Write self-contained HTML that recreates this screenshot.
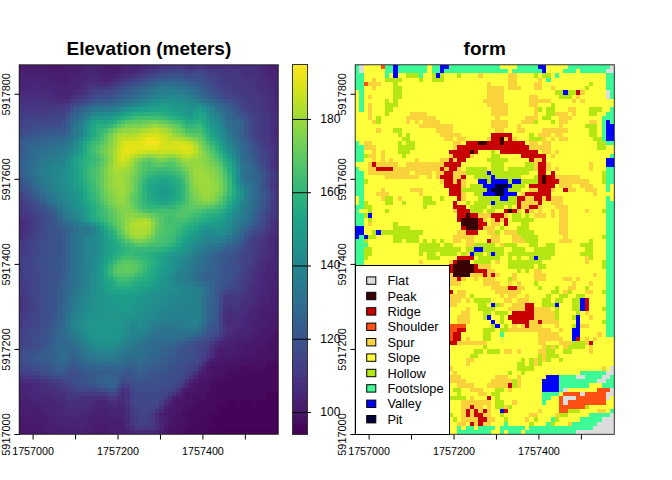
<!DOCTYPE html>
<html><head><meta charset="utf-8"><style>
html,body{margin:0;padding:0;background:#fff;width:672px;height:480px;overflow:hidden}
svg{display:block}
.ax{font-family:'Liberation Sans',sans-serif;font-size:10.75px;fill:#000;stroke:none}
.cbl{font-family:'Liberation Sans',sans-serif;font-size:12px;fill:#000;stroke:none}
.ayl{font-family:'Liberation Sans',sans-serif;font-size:10.9px;fill:#000;stroke:none}
.lg{font-family:'Liberation Sans',sans-serif;font-size:12.8px;fill:#000}
.tt{font-family:'Liberation Sans',sans-serif;font-size:19px;font-weight:bold;fill:#000}
</style></head><body>
<svg width="672" height="480" viewBox="0 0 672 480">
<rect width="672" height="480" fill="#fff"/>
<g shape-rendering="crispEdges"><g transform="translate(19.20,64.78) scale(4.24750,4.24750)"><path fill="#481a6c" d="M0 0h7v1h-7zM10 0h1v1h-1zM20 0h3v1h-3zM8 1h2v1h-2zM60 58h1v1h-1zM60 59h1v1h-1zM59 60h2v1h-2zM59 61h2v1h-2zM57 62h3v1h-3zM56 63h3v1h-3zM55 64h3v1h-3zM53 65h4v1h-4zM51 66h2v1h-2zM47 67h1v1h-1zM51 67h2v1h-2zM47 68h4v1h-4zM46 69h1v1h-1zM43 72h1v1h-1zM42 73h1v1h-1zM41 74h1v1h-1zM40 75h1v1h-1zM39 76h1v1h-1zM38 77h1v1h-1zM37 78h1v1h-1zM36 79h1v1h-1zM36 80h1v1h-1zM35 81h2v1h-2zM0 82h1v1h-1zM35 82h1v1h-1zM1 83h3v1h-3zM35 83h1v1h-1zM1 84h5v1h-5zM2 85h1v1h-1zM5 85h1v1h-1zM18 85h3v1h-3zM34 85h1v1h-1zM6 86h1v1h-1zM17 86h4v1h-4z"/><path fill="#481769" d="M7 0h3v1h-3zM60 62h1v1h-1zM59 63h1v1h-1zM58 64h1v1h-1zM57 65h1v1h-1zM53 66h5v1h-5zM53 67h3v1h-3zM51 68h5v1h-5zM47 69h5v1h-5zM45 70h3v1h-3zM44 71h1v1h-1zM44 72h2v1h-2zM43 73h2v1h-2zM42 74h2v1h-2zM41 75h1v1h-1zM40 76h2v1h-2zM38 78h1v1h-1zM37 79h2v1h-2zM37 80h1v1h-1zM37 81h1v1h-1zM36 82h1v1h-1zM0 83h1v1h-1zM0 84h1v1h-1zM35 84h1v1h-1zM0 85h2v1h-2zM3 85h2v1h-2zM1 86h5v1h-5zM34 86h1v1h-1z"/><path fill="#481d6f" d="M11 0h4v1h-4zM19 0h1v1h-1zM23 0h1v1h-1zM0 1h8v1h-8zM10 1h3v1h-3zM20 1h3v1h-3zM8 2h4v1h-4zM10 3h1v1h-1zM60 54h1v1h-1zM60 55h1v1h-1zM60 56h1v1h-1zM58 57h3v1h-3zM57 58h3v1h-3zM57 59h3v1h-3zM58 60h1v1h-1zM57 61h2v1h-2zM56 62h1v1h-1zM55 63h1v1h-1zM54 64h1v1h-1zM51 65h2v1h-2zM50 66h1v1h-1zM48 67h3v1h-3zM46 68h1v1h-1zM44 70h1v1h-1zM0 79h1v1h-1zM0 80h1v1h-1zM35 80h1v1h-1zM0 81h2v1h-2zM3 81h2v1h-2zM34 81h1v1h-1zM1 82h5v1h-5zM34 82h1v1h-1zM4 83h3v1h-3zM19 83h1v1h-1zM34 83h1v1h-1zM6 84h1v1h-1zM17 84h4v1h-4zM23 84h1v1h-1zM34 84h1v1h-1zM6 85h2v1h-2zM17 85h1v1h-1zM21 85h1v1h-1zM23 85h2v1h-2zM7 86h5v1h-5zM16 86h1v1h-1zM21 86h4v1h-4zM33 86h1v1h-1z"/><path fill="#482071" d="M15 0h1v1h-1zM18 0h1v1h-1zM24 0h1v1h-1zM59 0h2v1h-2zM13 1h2v1h-2zM18 1h2v1h-2zM23 1h1v1h-1zM60 1h1v1h-1zM0 2h8v1h-8zM12 2h2v1h-2zM19 2h3v1h-3zM6 3h4v1h-4zM11 3h1v1h-1zM9 4h3v1h-3zM60 49h1v1h-1zM60 50h1v1h-1zM59 51h2v1h-2zM59 52h2v1h-2zM59 53h2v1h-2zM59 54h1v1h-1zM59 55h1v1h-1zM57 56h3v1h-3zM56 57h2v1h-2zM56 58h1v1h-1zM56 59h1v1h-1zM55 60h3v1h-3zM55 61h2v1h-2zM55 62h1v1h-1zM54 63h1v1h-1zM51 64h3v1h-3zM49 65h2v1h-2zM47 66h3v1h-3zM46 67h1v1h-1zM45 69h1v1h-1zM43 71h1v1h-1zM42 72h1v1h-1zM38 76h1v1h-1zM0 78h2v1h-2zM36 78h1v1h-1zM1 79h2v1h-2zM1 80h5v1h-5zM2 81h1v1h-1zM5 81h1v1h-1zM18 81h3v1h-3zM6 82h1v1h-1zM17 82h4v1h-4zM33 82h1v1h-1zM7 83h2v1h-2zM16 83h3v1h-3zM20 83h4v1h-4zM7 84h2v1h-2zM16 84h1v1h-1zM21 84h2v1h-2zM24 84h1v1h-1zM8 85h6v1h-6zM15 85h2v1h-2zM22 85h1v1h-1zM12 86h4v1h-4zM25 86h1v1h-1z"/><path fill="#482475" d="M16 0h2v1h-2zM25 0h3v1h-3zM58 0h1v1h-1zM15 1h3v1h-3zM24 1h2v1h-2zM58 1h2v1h-2zM14 2h1v1h-1zM18 2h1v1h-1zM22 2h1v1h-1zM59 2h2v1h-2zM0 3h6v1h-6zM12 3h3v1h-3zM19 3h2v1h-2zM5 4h4v1h-4zM12 4h2v1h-2zM9 5h4v1h-4zM9 6h3v1h-3zM60 45h1v1h-1zM60 46h1v1h-1zM60 47h1v1h-1zM59 48h2v1h-2zM58 49h2v1h-2zM58 50h2v1h-2zM58 51h1v1h-1zM58 52h1v1h-1zM58 53h1v1h-1zM57 54h2v1h-2zM56 55h3v1h-3zM56 56h1v1h-1zM55 57h1v1h-1zM55 58h1v1h-1zM54 59h2v1h-2zM54 60h1v1h-1zM54 61h1v1h-1zM54 62h1v1h-1zM51 63h3v1h-3zM50 64h1v1h-1zM48 65h1v1h-1zM46 66h1v1h-1zM41 73h1v1h-1zM40 74h1v1h-1zM39 75h1v1h-1zM0 76h1v1h-1zM0 77h2v1h-2zM37 77h1v1h-1zM2 78h1v1h-1zM3 79h4v1h-4zM35 79h1v1h-1zM6 80h1v1h-1zM18 80h3v1h-3zM34 80h1v1h-1zM6 81h2v1h-2zM17 81h1v1h-1zM21 81h1v1h-1zM23 81h2v1h-2zM7 82h3v1h-3zM15 82h2v1h-2zM21 82h4v1h-4zM9 83h1v1h-1zM14 83h2v1h-2zM24 83h1v1h-1zM33 83h1v1h-1zM9 84h7v1h-7zM14 85h1v1h-1zM26 86h1v1h-1zM32 86h1v1h-1z"/><path fill="#482677" d="M28 0h2v1h-2zM57 0h1v1h-1zM26 1h2v1h-2zM15 2h3v1h-3zM23 2h1v1h-1zM58 2h1v1h-1zM15 3h1v1h-1zM21 3h1v1h-1zM59 3h2v1h-2zM0 4h5v1h-5zM14 4h1v1h-1zM59 4h2v1h-2zM0 5h3v1h-3zM4 5h5v1h-5zM13 5h1v1h-1zM60 5h1v1h-1zM8 6h1v1h-1zM12 6h1v1h-1zM60 6h1v1h-1zM9 7h3v1h-3zM60 7h1v1h-1zM60 8h1v1h-1zM60 15h1v1h-1zM60 16h1v1h-1zM60 41h1v1h-1zM60 42h1v1h-1zM60 43h1v1h-1zM60 44h1v1h-1zM59 46h1v1h-1zM58 47h2v1h-2zM58 48h1v1h-1zM57 49h1v1h-1zM57 50h1v1h-1zM57 51h1v1h-1zM57 52h1v1h-1zM57 53h1v1h-1zM56 54h1v1h-1zM55 56h1v1h-1zM54 57h1v1h-1zM54 58h1v1h-1zM53 59h1v1h-1zM53 60h1v1h-1zM53 61h1v1h-1zM51 62h3v1h-3zM50 63h1v1h-1zM49 64h1v1h-1zM47 65h1v1h-1zM0 75h3v1h-3zM1 76h3v1h-3zM2 77h2v1h-2zM3 78h5v1h-5zM7 79h2v1h-2zM18 79h3v1h-3zM7 80h3v1h-3zM17 80h1v1h-1zM21 80h1v1h-1zM23 80h2v1h-2zM8 81h2v1h-2zM16 81h1v1h-1zM22 81h1v1h-1zM10 82h1v1h-1zM14 82h1v1h-1zM10 83h4v1h-4zM33 84h1v1h-1zM25 85h1v1h-1zM33 85h1v1h-1zM27 86h1v1h-1zM31 86h1v1h-1z"/><path fill="#472a7a" d="M30 0h1v1h-1zM56 0h1v1h-1zM28 1h1v1h-1zM56 1h2v1h-2zM24 2h1v1h-1zM57 2h1v1h-1zM16 3h3v1h-3zM58 3h1v1h-1zM15 4h1v1h-1zM20 4h1v1h-1zM58 4h1v1h-1zM3 5h1v1h-1zM14 5h1v1h-1zM58 5h2v1h-2zM0 6h8v1h-8zM13 6h1v1h-1zM59 6h1v1h-1zM8 7h1v1h-1zM59 7h1v1h-1zM9 8h2v1h-2zM60 9h1v1h-1zM60 10h1v1h-1zM60 11h1v1h-1zM60 12h1v1h-1zM60 13h1v1h-1zM60 14h1v1h-1zM60 17h1v1h-1zM60 22h1v1h-1zM0 37h1v1h-1zM0 38h1v1h-1zM59 40h2v1h-2zM59 41h1v1h-1zM59 42h1v1h-1zM59 43h1v1h-1zM59 44h1v1h-1zM59 45h1v1h-1zM58 46h1v1h-1zM57 47h1v1h-1zM57 48h1v1h-1zM56 49h1v1h-1zM56 50h1v1h-1zM56 51h1v1h-1zM56 52h1v1h-1zM56 53h1v1h-1zM55 54h1v1h-1zM55 55h1v1h-1zM54 56h1v1h-1zM53 57h1v1h-1zM53 58h1v1h-1zM49 59h1v1h-1zM52 59h1v1h-1zM49 60h1v1h-1zM52 60h1v1h-1zM51 61h2v1h-2zM50 62h1v1h-1zM49 63h1v1h-1zM48 64h1v1h-1zM45 68h1v1h-1zM44 69h1v1h-1zM0 74h1v1h-1zM3 75h2v1h-2zM4 76h1v1h-1zM4 77h4v1h-4zM24 77h1v1h-1zM8 78h2v1h-2zM24 78h1v1h-1zM9 79h2v1h-2zM17 79h1v1h-1zM23 79h2v1h-2zM10 80h1v1h-1zM16 80h1v1h-1zM22 80h1v1h-1zM10 81h6v1h-6zM33 81h1v1h-1zM11 82h3v1h-3zM32 82h1v1h-1zM25 83h1v1h-1zM32 83h1v1h-1zM25 84h1v1h-1zM28 86h3v1h-3z"/><path fill="#472d7b" d="M31 0h1v1h-1zM51 0h5v1h-5zM54 1h2v1h-2zM25 2h1v1h-1zM56 2h1v1h-1zM22 3h1v1h-1zM57 3h1v1h-1zM16 4h1v1h-1zM19 4h1v1h-1zM21 4h1v1h-1zM57 4h1v1h-1zM15 5h1v1h-1zM58 6h1v1h-1zM0 7h8v1h-8zM12 7h1v1h-1zM8 8h1v1h-1zM59 8h1v1h-1zM59 9h1v1h-1zM59 10h1v1h-1zM60 18h1v1h-1zM60 21h1v1h-1zM60 23h1v1h-1zM0 36h1v1h-1zM60 37h1v1h-1zM60 38h1v1h-1zM0 39h1v1h-1zM60 39h1v1h-1zM58 41h1v1h-1zM58 42h1v1h-1zM58 43h1v1h-1zM58 44h1v1h-1zM58 45h1v1h-1zM57 46h1v1h-1zM56 47h1v1h-1zM56 48h1v1h-1zM55 51h1v1h-1zM55 52h1v1h-1zM55 53h1v1h-1zM54 55h1v1h-1zM53 56h1v1h-1zM52 57h1v1h-1zM49 58h1v1h-1zM52 58h1v1h-1zM50 59h2v1h-2zM50 60h2v1h-2zM49 61h2v1h-2zM49 62h1v1h-1zM45 67h1v1h-1zM43 70h1v1h-1zM42 71h1v1h-1zM1 74h3v1h-3zM5 75h1v1h-1zM5 76h3v1h-3zM8 77h2v1h-2zM10 78h1v1h-1zM18 78h2v1h-2zM23 78h1v1h-1zM35 78h1v1h-1zM14 79h3v1h-3zM21 79h2v1h-2zM11 80h5v1h-5zM25 81h1v1h-1zM25 82h1v1h-1z"/><path fill="#46307e" d="M32 0h1v1h-1zM40 0h1v1h-1zM44 0h7v1h-7zM29 1h1v1h-1zM52 1h2v1h-2zM26 2h1v1h-1zM53 2h3v1h-3zM23 3h1v1h-1zM55 3h2v1h-2zM17 4h2v1h-2zM56 4h1v1h-1zM56 5h2v1h-2zM14 6h1v1h-1zM57 6h1v1h-1zM58 7h1v1h-1zM0 8h8v1h-8zM11 8h1v1h-1zM58 8h1v1h-1zM58 9h1v1h-1zM58 10h1v1h-1zM59 11h1v1h-1zM59 12h1v1h-1zM59 13h1v1h-1zM59 14h1v1h-1zM59 15h1v1h-1zM59 16h1v1h-1zM59 17h1v1h-1zM59 18h1v1h-1zM60 19h1v1h-1zM60 20h1v1h-1zM60 24h1v1h-1zM60 28h1v1h-1zM1 36h1v1h-1zM60 36h1v1h-1zM1 37h1v1h-1zM1 38h1v1h-1zM59 39h1v1h-1zM0 40h1v1h-1zM58 40h1v1h-1zM57 44h1v1h-1zM57 45h1v1h-1zM56 46h1v1h-1zM55 48h1v1h-1zM55 49h1v1h-1zM55 50h1v1h-1zM54 52h1v1h-1zM54 53h1v1h-1zM54 54h1v1h-1zM0 55h1v1h-1zM53 55h1v1h-1zM0 56h1v1h-1zM52 56h1v1h-1zM49 57h1v1h-1zM48 58h1v1h-1zM50 58h2v1h-2zM48 59h1v1h-1zM48 60h1v1h-1zM48 63h1v1h-1zM46 65h1v1h-1zM45 66h1v1h-1zM41 72h1v1h-1zM4 74h1v1h-1zM6 75h1v1h-1zM8 76h1v1h-1zM24 76h1v1h-1zM10 77h1v1h-1zM14 78h4v1h-4zM20 78h1v1h-1zM11 79h1v1h-1zM13 79h1v1h-1zM34 79h1v1h-1zM25 80h1v1h-1zM32 84h1v1h-1zM26 85h1v1h-1zM32 85h1v1h-1z"/><path fill="#463480" d="M33 0h1v1h-1zM39 0h1v1h-1zM41 0h1v1h-1zM43 0h1v1h-1zM30 1h1v1h-1zM48 1h4v1h-4zM27 2h1v1h-1zM52 2h1v1h-1zM53 3h2v1h-2zM53 4h3v1h-3zM16 5h1v1h-1zM54 5h2v1h-2zM15 6h1v1h-1zM56 6h1v1h-1zM13 7h1v1h-1zM57 7h1v1h-1zM57 8h1v1h-1zM0 9h11v1h-11zM57 9h1v1h-1zM57 10h1v1h-1zM58 11h1v1h-1zM59 19h1v1h-1zM59 22h1v1h-1zM59 23h1v1h-1zM60 27h1v1h-1zM60 29h1v1h-1zM0 35h1v1h-1zM60 35h1v1h-1zM59 36h1v1h-1zM59 37h1v1h-1zM59 38h1v1h-1zM1 39h1v1h-1zM0 41h1v1h-1zM57 41h1v1h-1zM57 42h1v1h-1zM57 43h1v1h-1zM56 45h1v1h-1zM55 47h1v1h-1zM54 51h1v1h-1zM0 54h1v1h-1zM53 54h1v1h-1zM52 55h1v1h-1zM49 56h1v1h-1zM51 56h1v1h-1zM0 57h1v1h-1zM48 57h1v1h-1zM50 57h2v1h-2zM48 61h1v1h-1zM47 64h1v1h-1zM0 73h1v1h-1zM40 73h1v1h-1zM5 74h1v1h-1zM39 74h1v1h-1zM7 75h2v1h-2zM38 75h1v1h-1zM9 76h1v1h-1zM37 76h1v1h-1zM25 77h1v1h-1zM36 77h1v1h-1zM11 78h1v1h-1zM13 78h1v1h-1zM25 78h1v1h-1zM12 79h1v1h-1zM25 79h1v1h-1zM33 80h1v1h-1z"/><path fill="#453781" d="M34 0h5v1h-5zM42 0h1v1h-1zM31 1h1v1h-1zM47 1h1v1h-1zM28 2h1v1h-1zM48 2h4v1h-4zM24 3h1v1h-1zM51 3h2v1h-2zM22 4h1v1h-1zM52 4h1v1h-1zM17 5h1v1h-1zM20 5h1v1h-1zM52 5h2v1h-2zM53 6h3v1h-3zM14 7h1v1h-1zM55 7h2v1h-2zM12 8h1v1h-1zM55 8h2v1h-2zM56 9h1v1h-1zM0 10h7v1h-7zM56 10h1v1h-1zM57 11h1v1h-1zM58 12h1v1h-1zM58 13h1v1h-1zM58 14h1v1h-1zM58 15h1v1h-1zM58 16h1v1h-1zM58 17h1v1h-1zM58 18h1v1h-1zM59 20h1v1h-1zM59 21h1v1h-1zM59 24h1v1h-1zM60 25h1v1h-1zM60 26h1v1h-1zM60 30h1v1h-1zM60 31h1v1h-1zM0 32h1v1h-1zM60 32h1v1h-1zM0 33h1v1h-1zM60 33h1v1h-1zM0 34h1v1h-1zM60 34h1v1h-1zM1 35h1v1h-1zM2 36h1v1h-1zM2 37h1v1h-1zM2 38h1v1h-1zM58 39h1v1h-1zM1 40h1v1h-1zM57 40h1v1h-1zM0 42h1v1h-1zM56 42h1v1h-1zM56 43h1v1h-1zM56 44h1v1h-1zM55 46h1v1h-1zM54 48h1v1h-1zM54 49h1v1h-1zM54 50h1v1h-1zM0 51h1v1h-1zM0 52h1v1h-1zM53 52h1v1h-1zM0 53h1v1h-1zM53 53h1v1h-1zM52 54h1v1h-1zM49 55h1v1h-1zM51 55h1v1h-1zM1 56h1v1h-1zM48 56h1v1h-1zM50 56h1v1h-1zM0 58h1v1h-1zM48 62h1v1h-1zM44 68h1v1h-1zM1 73h2v1h-2zM6 74h1v1h-1zM10 76h1v1h-1zM25 76h1v1h-1zM11 77h1v1h-1zM23 77h1v1h-1zM12 78h1v1h-1zM21 78h2v1h-2zM32 81h1v1h-1zM26 82h1v1h-1zM31 82h1v1h-1zM26 83h1v1h-1zM31 83h1v1h-1zM26 84h1v1h-1zM31 84h1v1h-1zM27 85h1v1h-1zM29 85h3v1h-3z"/><path fill="#443a83" d="M32 1h1v1h-1zM44 1h3v1h-3zM47 2h1v1h-1zM25 3h1v1h-1zM48 3h3v1h-3zM49 4h3v1h-3zM18 5h2v1h-2zM50 5h2v1h-2zM16 6h1v1h-1zM51 6h2v1h-2zM53 7h2v1h-2zM54 8h1v1h-1zM11 9h1v1h-1zM54 9h2v1h-2zM7 10h1v1h-1zM55 10h1v1h-1zM0 11h1v1h-1zM56 11h1v1h-1zM57 12h1v1h-1zM57 13h1v1h-1zM57 14h1v1h-1zM57 15h1v1h-1zM57 16h1v1h-1zM57 17h1v1h-1zM58 19h1v1h-1zM59 27h1v1h-1zM59 28h1v1h-1zM2 35h1v1h-1zM59 35h1v1h-1zM2 39h1v1h-1zM1 41h1v1h-1zM55 41h2v1h-2zM1 42h1v1h-1zM55 42h1v1h-1zM0 43h1v1h-1zM55 43h1v1h-1zM55 45h1v1h-1zM54 47h1v1h-1zM0 50h1v1h-1zM53 51h1v1h-1zM1 52h1v1h-1zM1 53h1v1h-1zM52 53h1v1h-1zM1 54h1v1h-1zM49 54h1v1h-1zM51 54h1v1h-1zM1 55h1v1h-1zM48 55h1v1h-1zM50 55h1v1h-1zM1 57h1v1h-1zM1 58h1v1h-1zM0 59h1v1h-1zM0 60h1v1h-1zM0 61h1v1h-1zM45 65h1v1h-1zM44 67h1v1h-1zM43 69h1v1h-1zM3 73h1v1h-1zM7 74h1v1h-1zM9 75h1v1h-1zM11 76h1v1h-1zM12 77h8v1h-8zM26 81h1v1h-1zM28 85h1v1h-1z"/><path fill="#433d84" d="M33 1h1v1h-1zM39 1h2v1h-2zM29 2h1v1h-1zM46 2h1v1h-1zM47 3h1v1h-1zM23 4h1v1h-1zM48 4h1v1h-1zM21 5h1v1h-1zM49 5h1v1h-1zM50 6h1v1h-1zM15 7h1v1h-1zM52 7h1v1h-1zM13 8h1v1h-1zM53 8h1v1h-1zM53 9h1v1h-1zM8 10h3v1h-3zM54 10h1v1h-1zM1 11h6v1h-6zM55 11h1v1h-1zM0 12h1v1h-1zM56 12h1v1h-1zM56 13h1v1h-1zM56 14h1v1h-1zM56 15h1v1h-1zM56 16h1v1h-1zM57 18h1v1h-1zM58 20h1v1h-1zM58 21h1v1h-1zM58 22h1v1h-1zM59 25h1v1h-1zM59 26h1v1h-1zM59 29h1v1h-1zM0 31h1v1h-1zM59 32h1v1h-1zM1 33h1v1h-1zM59 33h1v1h-1zM1 34h1v1h-1zM59 34h1v1h-1zM3 36h1v1h-1zM58 36h1v1h-1zM3 37h1v1h-1zM58 37h1v1h-1zM3 38h1v1h-1zM58 38h1v1h-1zM57 39h1v1h-1zM2 40h1v1h-1zM56 40h1v1h-1zM54 42h1v1h-1zM1 43h1v1h-1zM54 43h1v1h-1zM0 44h1v1h-1zM55 44h1v1h-1zM0 45h1v1h-1zM0 46h1v1h-1zM54 46h1v1h-1zM0 47h1v1h-1zM0 48h1v1h-1zM53 48h1v1h-1zM0 49h1v1h-1zM53 49h1v1h-1zM53 50h1v1h-1zM1 51h1v1h-1zM52 51h1v1h-1zM52 52h1v1h-1zM48 54h1v1h-1zM50 54h1v1h-1zM2 55h1v1h-1zM2 56h1v1h-1zM2 57h1v1h-1zM1 59h1v1h-1zM0 62h1v1h-1zM47 63h1v1h-1zM46 64h1v1h-1zM44 66h1v1h-1zM42 70h1v1h-1zM41 71h1v1h-1zM0 72h1v1h-1zM4 73h1v1h-1zM8 74h1v1h-1zM10 75h1v1h-1zM12 76h1v1h-1zM20 77h1v1h-1zM35 77h1v1h-1zM34 78h1v1h-1zM33 79h1v1h-1zM26 80h1v1h-1zM27 82h1v1h-1zM27 83h1v1h-1zM27 84h1v1h-1zM30 84h1v1h-1z"/><path fill="#424086" d="M34 1h1v1h-1zM38 1h1v1h-1zM45 2h1v1h-1zM26 3h1v1h-1zM46 3h1v1h-1zM47 4h1v1h-1zM48 5h1v1h-1zM17 6h1v1h-1zM49 6h1v1h-1zM51 7h1v1h-1zM52 8h1v1h-1zM7 11h1v1h-1zM1 12h1v1h-1zM55 12h1v1h-1zM0 13h1v1h-1zM55 13h1v1h-1zM55 14h1v1h-1zM55 15h1v1h-1zM55 16h1v1h-1zM56 17h1v1h-1zM57 19h1v1h-1zM58 23h1v1h-1zM59 31h1v1h-1zM1 32h1v1h-1zM2 34h1v1h-1zM3 35h1v1h-1zM58 35h1v1h-1zM3 39h1v1h-1zM55 40h1v1h-1zM2 41h1v1h-1zM54 41h1v1h-1zM2 42h1v1h-1zM1 44h1v1h-1zM54 44h1v1h-1zM1 45h1v1h-1zM54 45h1v1h-1zM1 46h1v1h-1zM1 47h1v1h-1zM53 47h1v1h-1zM1 48h1v1h-1zM1 49h1v1h-1zM1 50h1v1h-1zM52 50h1v1h-1zM2 51h1v1h-1zM2 52h1v1h-1zM2 53h1v1h-1zM50 53h2v1h-2zM2 54h1v1h-1zM3 56h1v1h-1zM2 58h1v1h-1zM1 60h1v1h-1zM1 61h1v1h-1zM0 63h1v1h-1zM43 68h1v1h-1zM1 72h1v1h-1zM40 72h1v1h-1zM5 73h1v1h-1zM39 73h1v1h-1zM9 74h1v1h-1zM24 75h1v1h-1zM37 75h1v1h-1zM26 79h1v1h-1zM27 81h1v1h-1zM31 81h1v1h-1zM30 83h1v1h-1zM28 84h2v1h-2z"/><path fill="#414287" d="M35 1h1v1h-1zM41 1h1v1h-1zM43 1h1v1h-1zM30 2h1v1h-1zM44 2h1v1h-1zM27 3h1v1h-1zM45 3h1v1h-1zM24 4h1v1h-1zM46 4h1v1h-1zM22 5h1v1h-1zM47 5h1v1h-1zM18 6h1v1h-1zM48 6h1v1h-1zM16 7h1v1h-1zM50 7h1v1h-1zM14 8h1v1h-1zM51 8h1v1h-1zM12 9h1v1h-1zM52 9h1v1h-1zM11 10h1v1h-1zM53 10h1v1h-1zM8 11h3v1h-3zM54 11h1v1h-1zM2 12h5v1h-5zM1 13h1v1h-1zM0 14h1v1h-1zM56 18h1v1h-1zM57 20h1v1h-1zM58 24h1v1h-1zM0 30h1v1h-1zM59 30h1v1h-1zM2 33h1v1h-1zM3 34h1v1h-1zM4 36h1v1h-1zM4 37h1v1h-1zM4 38h1v1h-1zM4 39h1v1h-1zM56 39h1v1h-1zM3 40h1v1h-1zM3 41h1v1h-1zM2 43h1v1h-1zM2 44h1v1h-1zM53 44h1v1h-1zM2 45h1v1h-1zM53 45h1v1h-1zM2 46h1v1h-1zM53 46h1v1h-1zM2 47h1v1h-1zM2 48h1v1h-1zM2 49h1v1h-1zM52 49h1v1h-1zM2 50h1v1h-1zM51 51h1v1h-1zM51 52h1v1h-1zM49 53h1v1h-1zM3 55h1v1h-1zM3 57h1v1h-1zM2 59h1v1h-1zM47 59h1v1h-1zM2 60h1v1h-1zM47 60h1v1h-1zM2 61h1v1h-1zM47 61h1v1h-1zM1 62h1v1h-1zM47 62h1v1h-1zM1 63h1v1h-1zM0 64h1v1h-1zM0 65h1v1h-1zM43 66h1v1h-1zM43 67h1v1h-1zM42 69h1v1h-1zM0 71h1v1h-1zM2 72h1v1h-1zM6 73h1v1h-1zM38 74h1v1h-1zM11 75h1v1h-1zM25 75h1v1h-1zM13 76h1v1h-1zM23 76h1v1h-1zM36 76h1v1h-1zM26 77h1v1h-1zM26 78h1v1h-1zM27 80h1v1h-1zM32 80h1v1h-1zM28 81h1v1h-1zM28 82h1v1h-1zM30 82h1v1h-1zM28 83h2v1h-2z"/><path fill="#404688" d="M36 1h2v1h-2zM42 1h1v1h-1zM31 2h1v1h-1zM28 3h1v1h-1zM19 6h2v1h-2zM49 7h1v1h-1zM7 12h3v1h-3zM54 12h1v1h-1zM2 13h3v1h-3zM54 13h1v1h-1zM1 14h1v1h-1zM54 14h1v1h-1zM54 15h1v1h-1zM55 17h1v1h-1zM57 21h1v1h-1zM57 22h1v1h-1zM58 25h1v1h-1zM58 27h1v1h-1zM58 28h1v1h-1zM1 31h1v1h-1zM2 32h1v1h-1zM58 34h1v1h-1zM4 35h1v1h-1zM57 37h1v1h-1zM57 38h1v1h-1zM4 40h1v1h-1zM54 40h1v1h-1zM3 42h1v1h-1zM3 43h1v1h-1zM53 43h1v1h-1zM3 44h1v1h-1zM3 45h1v1h-1zM52 45h1v1h-1zM52 46h1v1h-1zM3 47h1v1h-1zM52 47h1v1h-1zM3 48h1v1h-1zM52 48h1v1h-1zM3 49h1v1h-1zM3 50h1v1h-1zM51 50h1v1h-1zM3 51h1v1h-1zM3 52h1v1h-1zM50 52h1v1h-1zM3 53h1v1h-1zM48 53h1v1h-1zM3 54h1v1h-1zM4 55h1v1h-1zM4 56h1v1h-1zM4 57h1v1h-1zM47 57h1v1h-1zM3 58h1v1h-1zM47 58h1v1h-1zM3 59h1v1h-1zM3 60h1v1h-1zM3 61h1v1h-1zM2 62h1v1h-1zM1 64h1v1h-1zM45 64h1v1h-1zM1 65h1v1h-1zM44 65h1v1h-1zM0 66h1v1h-1zM42 66h1v1h-1zM42 67h1v1h-1zM42 68h1v1h-1zM41 70h1v1h-1zM1 71h1v1h-1zM40 71h1v1h-1zM3 72h1v1h-1zM39 72h1v1h-1zM7 73h1v1h-1zM10 74h1v1h-1zM12 75h1v1h-1zM14 76h4v1h-4zM26 76h1v1h-1zM21 77h2v1h-2zM34 77h1v1h-1zM33 78h1v1h-1zM27 79h1v1h-1zM29 79h1v1h-1zM28 80h4v1h-4zM29 81h2v1h-2zM29 82h1v1h-1z"/><path fill="#3f4889" d="M32 2h1v1h-1zM39 2h2v1h-2zM43 2h1v1h-1zM44 3h1v1h-1zM25 4h1v1h-1zM45 4h1v1h-1zM23 5h1v1h-1zM46 5h1v1h-1zM21 6h1v1h-1zM47 6h1v1h-1zM17 7h1v1h-1zM48 7h1v1h-1zM15 8h1v1h-1zM50 8h1v1h-1zM52 10h1v1h-1zM53 11h1v1h-1zM10 12h1v1h-1zM5 13h5v1h-5zM2 14h1v1h-1zM0 15h1v1h-1zM54 16h1v1h-1zM56 19h1v1h-1zM57 23h1v1h-1zM58 26h1v1h-1zM0 29h1v1h-1zM58 32h1v1h-1zM3 33h1v1h-1zM58 33h1v1h-1zM4 34h1v1h-1zM5 36h1v1h-1zM57 36h1v1h-1zM5 37h1v1h-1zM5 38h1v1h-1zM5 39h1v1h-1zM55 39h1v1h-1zM4 41h1v1h-1zM4 42h1v1h-1zM53 42h1v1h-1zM4 43h1v1h-1zM4 44h1v1h-1zM52 44h1v1h-1zM3 46h1v1h-1zM51 46h1v1h-1zM4 48h1v1h-1zM4 49h1v1h-1zM51 49h1v1h-1zM4 50h1v1h-1zM4 51h1v1h-1zM50 51h1v1h-1zM4 52h1v1h-1zM49 52h1v1h-1zM4 53h1v1h-1zM4 54h1v1h-1zM47 55h1v1h-1zM47 56h1v1h-1zM4 58h1v1h-1zM4 59h1v1h-1zM4 60h1v1h-1zM4 61h1v1h-1zM3 62h1v1h-1zM2 63h1v1h-1zM46 63h1v1h-1zM2 64h1v1h-1zM2 65h1v1h-1zM43 65h1v1h-1zM1 66h1v1h-1zM41 66h1v1h-1zM41 67h1v1h-1zM41 69h1v1h-1zM0 70h1v1h-1zM40 70h1v1h-1zM2 71h1v1h-1zM39 71h1v1h-1zM4 72h1v1h-1zM38 72h1v1h-1zM8 73h1v1h-1zM38 73h1v1h-1zM36 74h2v1h-2zM36 75h1v1h-1zM18 76h1v1h-1zM33 76h3v1h-3zM27 77h7v1h-7zM27 78h6v1h-6zM28 79h1v1h-1zM30 79h3v1h-3z"/><path fill="#3e4c8a" d="M33 2h1v1h-1zM41 2h1v1h-1zM29 3h1v1h-1zM13 9h1v1h-1zM51 9h1v1h-1zM3 14h2v1h-2zM1 15h1v1h-1zM55 18h1v1h-1zM56 20h1v1h-1zM56 21h1v1h-1zM58 29h1v1h-1zM1 30h1v1h-1zM2 31h1v1h-1zM58 31h1v1h-1zM3 32h1v1h-1zM5 35h1v1h-1zM57 35h1v1h-1zM56 38h1v1h-1zM5 40h1v1h-1zM5 41h1v1h-1zM53 41h1v1h-1zM5 42h1v1h-1zM5 43h1v1h-1zM5 44h1v1h-1zM4 45h1v1h-1zM51 45h1v1h-1zM4 46h1v1h-1zM4 47h1v1h-1zM51 47h1v1h-1zM5 48h1v1h-1zM51 48h1v1h-1zM5 49h1v1h-1zM5 50h1v1h-1zM50 50h1v1h-1zM5 51h1v1h-1zM5 52h1v1h-1zM5 53h1v1h-1zM5 54h1v1h-1zM47 54h1v1h-1zM5 55h1v1h-1zM5 56h1v1h-1zM5 57h1v1h-1zM5 58h1v1h-1zM5 59h1v1h-1zM5 60h1v1h-1zM4 62h1v1h-1zM3 63h1v1h-1zM3 64h1v1h-1zM3 65h1v1h-1zM42 65h1v1h-1zM2 66h2v1h-2zM0 67h1v1h-1zM41 68h1v1h-1zM40 69h1v1h-1zM1 70h1v1h-1zM39 70h1v1h-1zM3 71h1v1h-1zM38 71h1v1h-1zM5 72h1v1h-1zM37 72h1v1h-1zM9 73h1v1h-1zM36 73h2v1h-2zM11 74h1v1h-1zM35 74h1v1h-1zM13 75h1v1h-1zM33 75h3v1h-3zM19 76h1v1h-1zM27 76h6v1h-6z"/><path fill="#3d4e8a" d="M34 2h1v1h-1zM38 2h1v1h-1zM42 2h1v1h-1zM43 3h1v1h-1zM26 4h1v1h-1zM44 4h1v1h-1zM24 5h1v1h-1zM45 5h1v1h-1zM22 6h1v1h-1zM46 6h1v1h-1zM18 7h3v1h-3zM16 8h1v1h-1zM49 8h1v1h-1zM12 10h1v1h-1zM11 11h1v1h-1zM10 13h1v1h-1zM5 14h5v1h-5zM2 15h2v1h-2zM0 16h1v1h-1zM54 17h1v1h-1zM56 22h1v1h-1zM57 24h1v1h-1zM0 28h1v1h-1zM58 30h1v1h-1zM4 33h1v1h-1zM5 34h1v1h-1zM57 34h1v1h-1zM6 35h1v1h-1zM6 36h1v1h-1zM6 37h1v1h-1zM6 38h1v1h-1zM6 39h1v1h-1zM54 39h1v1h-1zM6 40h1v1h-1zM6 41h1v1h-1zM6 42h1v1h-1zM6 43h1v1h-1zM52 43h1v1h-1zM6 44h1v1h-1zM51 44h1v1h-1zM5 45h1v1h-1zM5 46h1v1h-1zM50 46h1v1h-1zM5 47h1v1h-1zM50 47h1v1h-1zM6 48h1v1h-1zM50 48h1v1h-1zM6 49h1v1h-1zM50 49h1v1h-1zM6 50h1v1h-1zM6 51h1v1h-1zM49 51h1v1h-1zM6 52h1v1h-1zM48 52h1v1h-1zM6 53h1v1h-1zM47 53h1v1h-1zM6 54h1v1h-1zM6 55h1v1h-1zM6 56h1v1h-1zM6 57h1v1h-1zM6 58h1v1h-1zM6 59h1v1h-1zM6 60h1v1h-1zM5 61h1v1h-1zM5 62h1v1h-1zM46 62h1v1h-1zM4 63h1v1h-1zM45 63h1v1h-1zM4 64h1v1h-1zM44 64h1v1h-1zM4 65h1v1h-1zM41 65h1v1h-1zM4 66h1v1h-1zM40 66h1v1h-1zM1 67h1v1h-1zM40 67h1v1h-1zM0 68h1v1h-1zM40 68h1v1h-1zM0 69h2v1h-2zM39 69h1v1h-1zM2 70h1v1h-1zM38 70h1v1h-1zM4 71h1v1h-1zM37 71h1v1h-1zM6 72h1v1h-1zM12 72h2v1h-2zM36 72h1v1h-1zM11 73h2v1h-2zM35 73h1v1h-1zM12 74h1v1h-1zM24 74h2v1h-2zM34 74h1v1h-1zM14 75h1v1h-1zM23 75h1v1h-1zM26 75h1v1h-1zM28 75h5v1h-5zM20 76h1v1h-1z"/><path fill="#3b518b" d="M35 2h1v1h-1zM37 2h1v1h-1zM30 3h1v1h-1zM27 4h1v1h-1zM21 7h1v1h-1zM47 7h1v1h-1zM14 9h1v1h-1zM50 9h1v1h-1zM51 10h1v1h-1zM52 11h1v1h-1zM53 12h1v1h-1zM4 15h1v1h-1zM1 16h1v1h-1zM55 19h1v1h-1zM1 29h1v1h-1zM7 37h1v1h-1zM56 37h1v1h-1zM7 38h1v1h-1zM55 38h1v1h-1zM7 39h1v1h-1zM7 40h1v1h-1zM7 41h1v1h-1zM7 42h1v1h-1zM7 43h1v1h-1zM7 44h1v1h-1zM6 45h1v1h-1zM50 45h1v1h-1zM6 46h1v1h-1zM6 47h1v1h-1zM49 47h1v1h-1zM7 48h1v1h-1zM49 48h1v1h-1zM7 49h1v1h-1zM49 49h1v1h-1zM7 50h1v1h-1zM49 50h1v1h-1zM7 51h1v1h-1zM7 52h1v1h-1zM7 53h1v1h-1zM7 54h1v1h-1zM7 55h1v1h-1zM7 56h1v1h-1zM7 57h1v1h-1zM7 58h1v1h-1zM7 59h1v1h-1zM6 61h1v1h-1zM46 61h1v1h-1zM5 63h1v1h-1zM5 64h1v1h-1zM43 64h1v1h-1zM5 65h1v1h-1zM39 66h1v1h-1zM2 67h2v1h-2zM38 67h2v1h-2zM1 68h1v1h-1zM39 68h1v1h-1zM38 69h1v1h-1zM3 70h1v1h-1zM37 70h1v1h-1zM36 71h1v1h-1zM7 72h1v1h-1zM35 72h1v1h-1zM10 73h1v1h-1zM13 73h1v1h-1zM34 73h1v1h-1zM13 74h1v1h-1zM32 74h2v1h-2zM15 75h2v1h-2zM27 75h1v1h-1z"/><path fill="#3a538b" d="M36 2h1v1h-1zM41 3h2v1h-2zM28 4h1v1h-1zM43 4h1v1h-1zM25 5h1v1h-1zM44 5h1v1h-1zM23 6h1v1h-1zM45 6h1v1h-1zM17 8h1v1h-1zM48 8h1v1h-1zM11 12h1v1h-1zM53 13h1v1h-1zM10 14h1v1h-1zM53 14h1v1h-1zM5 15h1v1h-1zM53 15h1v1h-1zM2 16h1v1h-1zM0 17h1v1h-1zM54 18h1v1h-1zM55 20h1v1h-1zM56 23h1v1h-1zM57 25h1v1h-1zM57 26h1v1h-1zM0 27h1v1h-1zM57 27h1v1h-1zM57 28h1v1h-1zM2 30h1v1h-1zM3 31h1v1h-1zM4 32h1v1h-1zM5 33h1v1h-1zM57 33h1v1h-1zM6 34h1v1h-1zM7 35h1v1h-1zM7 36h1v1h-1zM56 36h1v1h-1zM8 38h1v1h-1zM8 39h1v1h-1zM8 40h2v1h-2zM53 40h1v1h-1zM8 41h2v1h-2zM8 42h2v1h-2zM52 42h1v1h-1zM8 43h2v1h-2zM51 43h1v1h-1zM8 44h2v1h-2zM50 44h1v1h-1zM7 45h1v1h-1zM49 45h1v1h-1zM7 46h1v1h-1zM49 46h1v1h-1zM7 47h1v1h-1zM8 48h1v1h-1zM48 48h1v1h-1zM8 49h1v1h-1zM48 49h1v1h-1zM8 50h1v1h-1zM48 50h1v1h-1zM8 51h1v1h-1zM48 51h1v1h-1zM8 52h1v1h-1zM47 52h1v1h-1zM8 53h1v1h-1zM8 54h1v1h-1zM8 55h1v1h-1zM8 56h1v1h-1zM8 57h1v1h-1zM7 60h1v1h-1zM46 60h1v1h-1zM6 62h1v1h-1zM45 62h1v1h-1zM6 63h1v1h-1zM44 63h1v1h-1zM6 64h1v1h-1zM42 64h1v1h-1zM5 66h1v1h-1zM38 66h1v1h-1zM4 67h1v1h-1zM2 68h1v1h-1zM38 68h1v1h-1zM2 69h1v1h-1zM37 69h1v1h-1zM4 70h1v1h-1zM36 70h1v1h-1zM5 71h2v1h-2zM12 71h2v1h-2zM35 71h1v1h-1zM8 72h1v1h-1zM11 72h1v1h-1zM14 72h1v1h-1zM25 72h2v1h-2zM34 72h1v1h-1zM14 73h1v1h-1zM24 73h3v1h-3zM31 73h3v1h-3zM14 74h1v1h-1zM26 74h6v1h-6zM17 75h1v1h-1zM22 76h1v1h-1z"/><path fill="#39568c" d="M31 3h1v1h-1zM40 3h1v1h-1zM22 7h1v1h-1zM46 7h1v1h-1zM15 9h1v1h-1zM51 11h1v1h-1zM6 15h4v1h-4zM3 16h1v1h-1zM53 16h1v1h-1zM55 21h1v1h-1zM1 28h1v1h-1zM57 29h1v1h-1zM57 31h1v1h-1zM57 32h1v1h-1zM56 35h1v1h-1zM8 37h1v1h-1zM9 39h1v1h-1zM49 44h1v1h-1zM8 45h2v1h-2zM8 46h1v1h-1zM8 47h2v1h-2zM48 47h1v1h-1zM9 48h1v1h-1zM9 49h1v1h-1zM47 51h1v1h-1zM8 58h1v1h-1zM8 59h1v1h-1zM46 59h1v1h-1zM7 61h1v1h-1zM45 61h1v1h-1zM6 65h1v1h-1zM40 65h1v1h-1zM37 67h1v1h-1zM3 68h1v1h-1zM37 68h1v1h-1zM3 69h1v1h-1zM36 69h1v1h-1zM5 70h1v1h-1zM35 70h1v1h-1zM7 71h1v1h-1zM34 71h1v1h-1zM15 72h1v1h-1zM31 72h3v1h-3zM15 73h1v1h-1zM27 73h1v1h-1zM30 73h1v1h-1zM15 74h1v1h-1zM18 75h1v1h-1zM21 76h1v1h-1z"/><path fill="#38598c" d="M32 3h1v1h-1zM39 3h1v1h-1zM29 4h1v1h-1zM42 4h1v1h-1zM26 5h1v1h-1zM43 5h1v1h-1zM24 6h1v1h-1zM44 6h1v1h-1zM18 8h3v1h-3zM47 8h1v1h-1zM49 9h1v1h-1zM13 10h1v1h-1zM50 10h1v1h-1zM12 11h1v1h-1zM52 12h1v1h-1zM11 13h1v1h-1zM10 15h1v1h-1zM4 16h1v1h-1zM1 17h1v1h-1zM53 17h1v1h-1zM0 18h1v1h-1zM0 19h1v1h-1zM54 19h1v1h-1zM0 20h1v1h-1zM55 22h1v1h-1zM56 24h1v1h-1zM0 26h1v1h-1zM2 29h1v1h-1zM57 30h1v1h-1zM7 34h1v1h-1zM56 34h1v1h-1zM8 36h1v1h-1zM55 37h1v1h-1zM9 38h1v1h-1zM54 38h1v1h-1zM10 40h1v1h-1zM10 41h1v1h-1zM52 41h1v1h-1zM10 42h1v1h-1zM10 43h1v1h-1zM50 43h1v1h-1zM10 44h1v1h-1zM48 44h1v1h-1zM47 45h2v1h-2zM9 46h1v1h-1zM48 46h1v1h-1zM47 48h1v1h-1zM47 49h1v1h-1zM9 50h1v1h-1zM47 50h1v1h-1zM9 51h1v1h-1zM46 51h1v1h-1zM9 52h1v1h-1zM46 52h1v1h-1zM46 53h1v1h-1zM46 54h1v1h-1zM46 55h1v1h-1zM46 56h1v1h-1zM46 57h1v1h-1zM46 58h1v1h-1zM8 60h1v1h-1zM7 62h1v1h-1zM44 62h1v1h-1zM7 63h1v1h-1zM43 63h1v1h-1zM7 64h1v1h-1zM41 64h1v1h-1zM39 65h1v1h-1zM6 66h1v1h-1zM37 66h1v1h-1zM5 67h1v1h-1zM4 68h1v1h-1zM36 68h1v1h-1zM4 69h1v1h-1zM35 69h1v1h-1zM6 70h1v1h-1zM12 70h1v1h-1zM34 70h1v1h-1zM11 71h1v1h-1zM32 71h2v1h-2zM9 72h2v1h-2zM16 72h1v1h-1zM24 72h1v1h-1zM27 72h1v1h-1zM30 72h1v1h-1zM16 73h1v1h-1zM23 73h1v1h-1zM28 73h2v1h-2zM16 74h1v1h-1zM23 74h1v1h-1zM19 75h1v1h-1z"/><path fill="#365c8d" d="M33 3h1v1h-1zM38 3h1v1h-1zM27 5h1v1h-1zM23 7h1v1h-1zM45 7h1v1h-1zM21 8h1v1h-1zM11 14h1v1h-1zM5 16h1v1h-1zM2 17h1v1h-1zM54 20h1v1h-1zM0 21h1v1h-1zM55 23h1v1h-1zM0 25h1v1h-1zM56 25h1v1h-1zM1 27h1v1h-1zM3 30h1v1h-1zM4 31h1v1h-1zM5 32h1v1h-1zM6 33h1v1h-1zM8 35h1v1h-1zM10 39h1v1h-1zM53 39h1v1h-1zM51 42h1v1h-1zM47 44h1v1h-1zM10 45h1v1h-1zM10 46h1v1h-1zM47 46h1v1h-1zM10 47h1v1h-1zM47 47h1v1h-1zM10 48h1v1h-1zM10 49h1v1h-1zM46 50h1v1h-1zM9 53h1v1h-1zM9 54h1v1h-1zM9 55h1v1h-1zM9 56h1v1h-1zM45 60h1v1h-1zM8 61h1v1h-1zM7 65h1v1h-1zM38 65h1v1h-1zM6 67h1v1h-1zM36 67h1v1h-1zM5 68h1v1h-1zM35 68h1v1h-1zM5 69h2v1h-2zM34 69h1v1h-1zM7 70h1v1h-1zM13 70h1v1h-1zM33 70h1v1h-1zM8 71h1v1h-1zM14 71h1v1h-1zM25 71h2v1h-2zM31 71h1v1h-1zM17 72h7v1h-7zM17 73h1v1h-1zM17 74h1v1h-1zM20 75h1v1h-1z"/><path fill="#355f8d" d="M34 3h1v1h-1zM37 3h1v1h-1zM30 4h1v1h-1zM41 4h1v1h-1zM28 5h1v1h-1zM25 6h1v1h-1zM16 9h1v1h-1zM48 9h1v1h-1zM50 11h1v1h-1zM51 12h1v1h-1zM52 13h1v1h-1zM6 16h4v1h-4zM3 17h1v1h-1zM1 18h1v1h-1zM53 18h1v1h-1zM1 19h1v1h-1zM54 21h1v1h-1zM0 22h1v1h-1zM0 23h1v1h-1zM0 24h1v1h-1zM56 26h1v1h-1zM2 28h1v1h-1zM56 33h1v1h-1zM55 36h1v1h-1zM9 37h1v1h-1zM10 38h1v1h-1zM49 43h1v1h-1zM46 45h1v1h-1zM46 46h1v1h-1zM46 47h1v1h-1zM46 48h1v1h-1zM45 49h2v1h-2zM10 50h1v1h-1zM45 50h1v1h-1zM45 56h1v1h-1zM9 57h1v1h-1zM45 57h1v1h-1zM9 58h1v1h-1zM45 58h1v1h-1zM9 59h1v1h-1zM45 59h1v1h-1zM9 60h1v1h-1zM44 61h1v1h-1zM8 62h1v1h-1zM7 66h1v1h-1zM36 66h1v1h-1zM35 67h1v1h-1zM6 68h1v1h-1zM34 68h1v1h-1zM7 69h1v1h-1zM12 69h1v1h-1zM33 69h1v1h-1zM8 70h1v1h-1zM11 70h1v1h-1zM32 70h1v1h-1zM9 71h1v1h-1zM15 71h2v1h-2zM27 71h1v1h-1zM30 71h1v1h-1zM28 72h2v1h-2zM18 73h2v1h-2zM22 73h1v1h-1zM18 74h1v1h-1zM22 75h1v1h-1z"/><path fill="#34618d" d="M35 3h2v1h-2zM40 4h1v1h-1zM42 5h1v1h-1zM26 6h1v1h-1zM43 6h1v1h-1zM24 7h1v1h-1zM44 7h1v1h-1zM22 8h1v1h-1zM46 8h1v1h-1zM14 10h1v1h-1zM49 10h1v1h-1zM12 12h1v1h-1zM50 12h1v1h-1zM52 14h1v1h-1zM11 15h1v1h-1zM52 15h1v1h-1zM10 16h1v1h-1zM52 16h1v1h-1zM4 17h2v1h-2zM2 18h1v1h-1zM53 19h1v1h-1zM1 20h1v1h-1zM1 21h1v1h-1zM54 22h1v1h-1zM55 24h1v1h-1zM1 26h1v1h-1zM56 27h1v1h-1zM56 28h1v1h-1zM3 29h1v1h-1zM56 29h1v1h-1zM56 30h1v1h-1zM56 31h1v1h-1zM56 32h1v1h-1zM8 34h1v1h-1zM55 35h1v1h-1zM54 37h1v1h-1zM11 39h1v1h-1zM52 40h1v1h-1zM50 42h1v1h-1zM48 43h1v1h-1zM46 44h1v1h-1zM45 48h1v1h-1zM44 49h1v1h-1zM44 50h1v1h-1zM10 51h1v1h-1zM45 51h1v1h-1zM10 52h1v1h-1zM45 54h1v1h-1zM45 55h1v1h-1zM44 60h1v1h-1zM8 63h1v1h-1zM42 63h1v1h-1zM8 64h1v1h-1zM40 64h1v1h-1zM37 65h1v1h-1zM35 66h1v1h-1zM7 67h1v1h-1zM34 67h1v1h-1zM7 68h1v1h-1zM12 68h1v1h-1zM33 68h1v1h-1zM8 69h1v1h-1zM13 69h1v1h-1zM32 69h1v1h-1zM31 70h1v1h-1zM10 71h1v1h-1zM17 71h1v1h-1zM20 71h2v1h-2zM24 71h1v1h-1zM29 71h1v1h-1zM20 73h2v1h-2zM19 74h1v1h-1zM21 75h1v1h-1z"/><path fill="#32648e" d="M31 4h1v1h-1zM29 5h1v1h-1zM27 6h1v1h-1zM25 7h1v1h-1zM17 9h1v1h-1zM13 11h1v1h-1zM51 13h1v1h-1zM6 17h1v1h-1zM52 17h1v1h-1zM3 18h1v1h-1zM2 19h1v1h-1zM53 20h1v1h-1zM1 22h1v1h-1zM55 25h1v1h-1zM55 26h1v1h-1zM2 27h1v1h-1zM4 30h1v1h-1zM5 31h1v1h-1zM7 33h1v1h-1zM55 34h1v1h-1zM9 36h1v1h-1zM11 38h1v1h-1zM53 38h1v1h-1zM11 40h1v1h-1zM11 41h1v1h-1zM51 41h1v1h-1zM11 42h1v1h-1zM11 43h1v1h-1zM11 44h1v1h-1zM11 45h1v1h-1zM45 45h1v1h-1zM11 46h1v1h-1zM45 46h1v1h-1zM11 47h1v1h-1zM45 47h1v1h-1zM11 48h1v1h-1zM44 48h1v1h-1zM43 49h1v1h-1zM43 50h1v1h-1zM45 52h1v1h-1zM10 53h1v1h-1zM45 53h1v1h-1zM10 54h1v1h-1zM10 55h1v1h-1zM44 56h1v1h-1zM44 57h1v1h-1zM44 58h1v1h-1zM44 59h1v1h-1zM9 61h1v1h-1zM43 62h1v1h-1zM8 65h1v1h-1zM8 66h1v1h-1zM34 66h1v1h-1zM8 67h1v1h-1zM12 67h1v1h-1zM33 67h1v1h-1zM8 68h1v1h-1zM32 68h1v1h-1zM11 69h1v1h-1zM31 69h1v1h-1zM9 70h1v1h-1zM14 70h1v1h-1zM26 70h1v1h-1zM30 70h1v1h-1zM18 71h2v1h-2zM22 71h2v1h-2zM28 71h1v1h-1zM20 74h1v1h-1zM22 74h1v1h-1z"/><path fill="#30698e" d="M32 4h1v1h-1zM38 4h1v1h-1zM30 5h1v1h-1zM28 6h1v1h-1zM42 6h1v1h-1zM26 7h1v1h-1zM43 7h1v1h-1zM24 8h1v1h-1zM45 8h1v1h-1zM18 9h3v1h-3zM15 10h1v1h-1zM48 10h1v1h-1zM49 12h1v1h-1zM12 14h1v1h-1zM50 14h1v1h-1zM11 16h1v1h-1zM6 18h1v1h-1zM52 18h1v1h-1zM3 19h1v1h-1zM2 22h1v1h-1zM53 22h1v1h-1zM54 24h1v1h-1zM54 25h1v1h-1zM2 26h1v1h-1zM54 26h1v1h-1zM55 27h1v1h-1zM4 29h1v1h-1zM55 29h1v1h-1zM55 30h1v1h-1zM55 31h1v1h-1zM9 35h1v1h-1zM54 36h1v1h-1zM12 38h1v1h-1zM12 39h1v1h-1zM50 41h1v1h-1zM47 43h1v1h-1zM44 46h1v1h-1zM43 48h1v1h-1zM42 49h1v1h-1zM42 50h1v1h-1zM44 51h1v1h-1zM11 53h1v1h-1zM44 54h1v1h-1zM10 57h1v1h-1zM10 58h1v1h-1zM10 59h1v1h-1zM10 60h1v1h-1zM43 61h1v1h-1zM41 63h1v1h-1zM10 64h1v1h-1zM38 64h1v1h-1zM11 65h1v1h-1zM34 65h2v1h-2zM10 66h3v1h-3zM32 66h1v1h-1zM9 67h1v1h-1zM11 67h1v1h-1zM13 67h1v1h-1zM31 67h1v1h-1zM30 68h1v1h-1zM9 69h1v1h-1zM14 69h1v1h-1zM26 69h1v1h-1zM16 70h1v1h-1zM24 70h1v1h-1zM28 70h1v1h-1z"/><path fill="#2f6b8e" d="M33 4h1v1h-1zM37 4h1v1h-1zM40 5h1v1h-1zM21 9h1v1h-1zM14 11h1v1h-1zM13 12h1v1h-1zM50 15h1v1h-1zM10 17h1v1h-1zM51 17h1v1h-1zM7 18h1v1h-1zM4 19h2v1h-2zM52 19h1v1h-1zM3 20h1v1h-1zM3 21h1v1h-1zM2 23h1v1h-1zM3 27h1v1h-1zM55 28h1v1h-1zM5 30h1v1h-1zM55 32h1v1h-1zM8 33h1v1h-1zM54 35h1v1h-1zM11 37h1v1h-1zM53 37h1v1h-1zM51 40h1v1h-1zM44 45h1v1h-1zM43 47h1v1h-1zM11 54h1v1h-1zM10 61h1v1h-1zM10 63h1v1h-1zM37 64h1v1h-1zM32 65h2v1h-2zM31 66h1v1h-1zM10 67h1v1h-1zM30 67h1v1h-1zM9 68h1v1h-1zM10 69h1v1h-1zM25 69h1v1h-1zM27 69h1v1h-1zM29 69h1v1h-1zM17 70h1v1h-1zM23 70h1v1h-1z"/><path fill="#2e6e8e" d="M34 4h3v1h-3zM29 6h1v1h-1zM27 7h1v1h-1zM25 8h1v1h-1zM44 8h1v1h-1zM46 9h1v1h-1zM16 10h1v1h-1zM48 11h1v1h-1zM49 13h1v1h-1zM12 15h1v1h-1zM50 16h1v1h-1zM8 18h1v1h-1zM6 19h1v1h-1zM4 20h1v1h-1zM52 20h1v1h-1zM3 22h1v1h-1zM53 23h1v1h-1zM2 24h1v1h-1zM2 25h1v1h-1zM53 25h1v1h-1zM53 26h1v1h-1zM54 27h1v1h-1zM4 28h1v1h-1zM6 31h1v1h-1zM7 32h1v1h-1zM9 34h1v1h-1zM54 34h1v1h-1zM10 36h1v1h-1zM52 38h1v1h-1zM12 40h1v1h-1zM12 41h1v1h-1zM12 42h1v1h-1zM48 42h1v1h-1zM12 43h1v1h-1zM46 43h1v1h-1zM12 44h1v1h-1zM44 44h1v1h-1zM12 45h1v1h-1zM12 46h1v1h-1zM43 46h1v1h-1zM12 47h1v1h-1zM12 48h1v1h-1zM42 48h1v1h-1zM12 49h1v1h-1zM12 50h1v1h-1zM12 51h1v1h-1zM43 51h1v1h-1zM12 52h1v1h-1zM44 52h1v1h-1zM44 53h1v1h-1zM11 55h1v1h-1zM11 56h1v1h-1zM43 60h1v1h-1zM10 62h1v1h-1zM42 62h1v1h-1zM40 63h1v1h-1zM11 64h1v1h-1zM33 64h4v1h-4zM12 65h1v1h-1zM31 65h1v1h-1zM30 66h1v1h-1zM10 68h1v1h-1zM14 68h1v1h-1zM26 68h1v1h-1zM29 68h1v1h-1zM15 69h1v1h-1zM28 69h1v1h-1zM18 70h5v1h-5z"/><path fill="#31668e" d="M39 4h1v1h-1zM41 5h1v1h-1zM23 8h1v1h-1zM47 9h1v1h-1zM49 11h1v1h-1zM12 13h1v1h-1zM50 13h1v1h-1zM51 14h1v1h-1zM51 15h1v1h-1zM51 16h1v1h-1zM7 17h3v1h-3zM4 18h2v1h-2zM2 20h1v1h-1zM2 21h1v1h-1zM53 21h1v1h-1zM1 23h1v1h-1zM54 23h1v1h-1zM1 24h1v1h-1zM1 25h1v1h-1zM3 28h1v1h-1zM6 32h1v1h-1zM55 33h1v1h-1zM10 37h1v1h-1zM52 39h1v1h-1zM49 42h1v1h-1zM45 44h1v1h-1zM44 47h1v1h-1zM11 49h1v1h-1zM11 50h1v1h-1zM11 51h1v1h-1zM11 52h1v1h-1zM44 55h1v1h-1zM10 56h1v1h-1zM9 62h1v1h-1zM9 63h1v1h-1zM9 64h1v1h-1zM39 64h1v1h-1zM9 65h2v1h-2zM36 65h1v1h-1zM9 66h1v1h-1zM33 66h1v1h-1zM32 67h1v1h-1zM11 68h1v1h-1zM13 68h1v1h-1zM31 68h1v1h-1zM30 69h1v1h-1zM10 70h1v1h-1zM15 70h1v1h-1zM25 70h1v1h-1zM27 70h1v1h-1zM29 70h1v1h-1zM21 74h1v1h-1z"/><path fill="#2d708e" d="M31 5h1v1h-1zM39 5h1v1h-1zM41 6h1v1h-1zM42 7h1v1h-1zM22 9h1v1h-1zM13 13h1v1h-1zM49 14h1v1h-1zM11 17h1v1h-1zM9 18h1v1h-1zM51 18h1v1h-1zM7 19h1v1h-1zM5 20h1v1h-1zM4 21h1v1h-1zM52 21h1v1h-1zM3 23h1v1h-1zM53 24h1v1h-1zM3 26h1v1h-1zM5 29h1v1h-1zM54 33h1v1h-1zM12 37h1v1h-1zM49 41h1v1h-1zM45 43h1v1h-1zM43 45h1v1h-1zM42 47h1v1h-1zM41 49h1v1h-1zM41 50h1v1h-1zM12 53h1v1h-1zM43 55h1v1h-1zM43 56h1v1h-1zM11 57h1v1h-1zM43 57h1v1h-1zM43 58h1v1h-1zM43 59h1v1h-1zM39 63h1v1h-1zM32 64h1v1h-1zM30 65h1v1h-1zM13 66h1v1h-1zM29 66h1v1h-1zM29 67h1v1h-1zM25 68h1v1h-1zM27 68h1v1h-1zM16 69h1v1h-1zM24 69h1v1h-1z"/><path fill="#2c728e" d="M32 5h1v1h-1zM38 5h1v1h-1zM30 6h1v1h-1zM28 7h1v1h-1zM26 8h1v1h-1zM43 8h1v1h-1zM23 9h1v1h-1zM47 10h1v1h-1zM15 11h1v1h-1zM14 12h1v1h-1zM48 12h1v1h-1zM12 16h1v1h-1zM50 17h1v1h-1zM10 18h1v1h-1zM8 19h1v1h-1zM6 20h1v1h-1zM5 21h1v1h-1zM4 22h1v1h-1zM52 22h1v1h-1zM3 24h1v1h-1zM3 25h1v1h-1zM4 27h1v1h-1zM53 27h1v1h-1zM54 28h1v1h-1zM54 29h1v1h-1zM6 30h1v1h-1zM54 30h1v1h-1zM54 31h1v1h-1zM54 32h1v1h-1zM53 36h1v1h-1zM13 38h1v1h-1zM13 39h1v1h-1zM51 39h1v1h-1zM50 40h1v1h-1zM44 43h1v1h-1zM42 46h1v1h-1zM42 51h1v1h-1zM12 54h1v1h-1zM43 54h1v1h-1zM11 58h1v1h-1zM11 63h1v1h-1zM32 63h7v1h-7zM12 64h1v1h-1zM31 64h1v1h-1zM29 65h1v1h-1zM28 66h1v1h-1zM14 67h1v1h-1zM26 67h3v1h-3zM15 68h1v1h-1zM28 68h1v1h-1zM17 69h1v1h-1zM23 69h1v1h-1z"/><path fill="#2a778e" d="M33 5h2v1h-2zM36 5h1v1h-1zM31 6h1v1h-1zM29 7h1v1h-1zM41 7h1v1h-1zM27 8h1v1h-1zM24 9h1v1h-1zM47 11h1v1h-1zM48 13h1v1h-1zM13 15h1v1h-1zM11 18h1v1h-1zM10 19h1v1h-1zM8 20h1v1h-1zM6 21h1v1h-1zM5 22h1v1h-1zM52 23h1v1h-1zM4 24h1v1h-1zM4 25h1v1h-1zM5 27h1v1h-1zM6 29h1v1h-1zM53 34h1v1h-1zM14 38h1v1h-1zM51 38h1v1h-1zM14 39h2v1h-2zM48 41h1v1h-1zM41 46h1v1h-1zM40 49h1v1h-1zM40 50h1v1h-1zM41 51h1v1h-1zM43 52h1v1h-1zM13 53h1v1h-1zM43 53h1v1h-1zM12 57h1v1h-1zM34 61h2v1h-2zM32 62h1v1h-1zM38 62h1v1h-1zM12 63h1v1h-1zM28 65h1v1h-1zM14 66h1v1h-1zM26 66h1v1h-1zM15 67h1v1h-1zM16 68h1v1h-1zM19 69h3v1h-3z"/><path fill="#29798e" d="M35 5h1v1h-1zM39 6h1v1h-1zM42 8h1v1h-1zM18 10h3v1h-3zM46 10h1v1h-1zM16 11h1v1h-1zM14 13h1v1h-1zM49 16h1v1h-1zM12 17h1v1h-1zM50 18h1v1h-1zM9 20h1v1h-1zM51 20h1v1h-1zM7 21h2v1h-2zM6 22h1v1h-1zM5 23h1v1h-1zM52 24h1v1h-1zM52 25h1v1h-1zM5 26h1v1h-1zM52 26h1v1h-1zM6 28h1v1h-1zM53 28h1v1h-1zM7 30h1v1h-1zM8 31h1v1h-1zM53 33h1v1h-1zM10 34h1v1h-1zM52 36h1v1h-1zM13 37h1v1h-1zM16 39h1v1h-1zM50 39h1v1h-1zM14 40h1v1h-1zM49 40h1v1h-1zM14 41h1v1h-1zM14 42h1v1h-1zM44 42h3v1h-3zM14 43h1v1h-1zM43 43h1v1h-1zM14 44h1v1h-1zM42 44h1v1h-1zM14 45h1v1h-1zM41 45h1v1h-1zM14 46h1v1h-1zM14 47h1v1h-1zM40 47h1v1h-1zM14 48h1v1h-1zM40 48h1v1h-1zM14 49h1v1h-1zM14 50h1v1h-1zM39 50h1v1h-1zM14 51h1v1h-1zM13 54h1v1h-1zM12 58h1v1h-1zM42 60h1v1h-1zM33 61h1v1h-1zM36 61h2v1h-2zM31 62h1v1h-1zM39 62h2v1h-2zM30 63h1v1h-1zM13 64h1v1h-1zM29 64h1v1h-1zM27 65h1v1h-1zM24 67h1v1h-1zM17 68h1v1h-1zM23 68h1v1h-1z"/><path fill="#2b748e" d="M37 5h1v1h-1zM40 6h1v1h-1zM45 9h1v1h-1zM17 10h1v1h-1zM13 14h1v1h-1zM49 15h1v1h-1zM9 19h1v1h-1zM51 19h1v1h-1zM7 20h1v1h-1zM4 23h1v1h-1zM4 26h1v1h-1zM5 28h1v1h-1zM7 31h1v1h-1zM8 32h1v1h-1zM9 33h1v1h-1zM10 35h1v1h-1zM53 35h1v1h-1zM11 36h1v1h-1zM52 37h1v1h-1zM15 38h2v1h-2zM13 40h1v1h-1zM13 41h1v1h-1zM13 42h1v1h-1zM47 42h1v1h-1zM13 43h1v1h-1zM13 44h1v1h-1zM43 44h1v1h-1zM13 45h1v1h-1zM42 45h1v1h-1zM13 46h1v1h-1zM13 47h1v1h-1zM41 47h1v1h-1zM13 48h1v1h-1zM41 48h1v1h-1zM13 49h1v1h-1zM13 50h1v1h-1zM13 51h1v1h-1zM13 52h1v1h-1zM12 55h1v1h-1zM12 56h1v1h-1zM11 59h1v1h-1zM11 60h1v1h-1zM11 61h1v1h-1zM42 61h1v1h-1zM11 62h1v1h-1zM33 62h5v1h-5zM41 62h1v1h-1zM31 63h1v1h-1zM30 64h1v1h-1zM13 65h1v1h-1zM27 66h1v1h-1zM25 67h1v1h-1zM24 68h1v1h-1zM18 69h1v1h-1zM22 69h1v1h-1z"/><path fill="#287c8e" d="M32 6h1v1h-1zM38 6h1v1h-1zM30 7h1v1h-1zM28 8h1v1h-1zM44 9h1v1h-1zM21 10h1v1h-1zM15 12h1v1h-1zM47 12h1v1h-1zM48 14h1v1h-1zM13 16h1v1h-1zM10 20h1v1h-1zM9 21h1v1h-1zM51 21h1v1h-1zM7 22h1v1h-1zM6 23h1v1h-1zM5 24h1v1h-1zM5 25h1v1h-1zM6 27h1v1h-1zM7 29h1v1h-1zM9 32h1v1h-1zM53 32h1v1h-1zM11 35h1v1h-1zM12 36h1v1h-1zM51 37h1v1h-1zM40 46h1v1h-1zM39 49h1v1h-1zM38 50h1v1h-1zM40 51h1v1h-1zM14 52h1v1h-1zM42 52h1v1h-1zM42 54h1v1h-1zM13 55h1v1h-1zM42 55h1v1h-1zM42 56h1v1h-1zM42 57h1v1h-1zM42 58h1v1h-1zM42 59h1v1h-1zM34 60h4v1h-4zM32 61h1v1h-1zM38 61h1v1h-1zM41 61h1v1h-1zM12 62h1v1h-1zM28 64h1v1h-1zM14 65h1v1h-1zM26 65h1v1h-1zM15 66h1v1h-1zM25 66h1v1h-1zM16 67h1v1h-1zM18 68h1v1h-1zM22 68h1v1h-1z"/><path fill="#277e8e" d="M33 6h1v1h-1zM37 6h1v1h-1zM40 7h1v1h-1zM25 9h1v1h-1zM49 17h1v1h-1zM11 19h1v1h-1zM8 22h1v1h-1zM6 24h1v1h-1zM6 25h1v1h-1zM6 26h1v1h-1zM52 27h1v1h-1zM8 30h1v1h-1zM53 31h1v1h-1zM10 33h1v1h-1zM52 35h1v1h-1zM51 36h1v1h-1zM17 38h1v1h-1zM47 41h1v1h-1zM43 42h1v1h-1zM15 43h1v1h-1zM42 43h1v1h-1zM41 44h1v1h-1zM15 46h1v1h-1zM15 47h1v1h-1zM39 47h1v1h-1zM39 48h1v1h-1zM15 49h1v1h-1zM38 49h1v1h-1zM15 50h1v1h-1zM15 51h1v1h-1zM39 51h1v1h-1zM41 52h1v1h-1zM14 53h1v1h-1zM42 53h1v1h-1zM13 56h1v1h-1zM13 57h1v1h-1zM12 59h1v1h-1zM35 59h3v1h-3zM33 60h1v1h-1zM38 60h1v1h-1zM31 61h1v1h-1zM39 61h2v1h-2zM30 62h1v1h-1zM13 63h1v1h-1zM29 63h1v1h-1zM27 64h1v1h-1zM23 67h1v1h-1zM19 68h3v1h-3z"/><path fill="#26818e" d="M34 6h3v1h-3zM31 7h1v1h-1zM39 7h1v1h-1zM29 8h1v1h-1zM41 8h1v1h-1zM22 10h1v1h-1zM45 10h1v1h-1zM46 11h1v1h-1zM14 14h1v1h-1zM48 15h1v1h-1zM12 18h1v1h-1zM50 19h1v1h-1zM10 21h1v1h-1zM9 22h1v1h-1zM51 22h1v1h-1zM7 23h1v1h-1zM7 27h1v1h-1zM7 28h1v1h-1zM53 29h1v1h-1zM53 30h1v1h-1zM9 31h1v1h-1zM10 32h1v1h-1zM11 34h1v1h-1zM52 34h1v1h-1zM14 37h1v1h-1zM50 38h1v1h-1zM17 39h1v1h-1zM15 40h1v1h-1zM48 40h1v1h-1zM15 41h1v1h-1zM44 41h3v1h-3zM15 42h1v1h-1zM15 44h1v1h-1zM15 45h1v1h-1zM40 45h1v1h-1zM39 46h1v1h-1zM15 48h1v1h-1zM38 48h1v1h-1zM37 49h1v1h-1zM37 50h1v1h-1zM38 51h1v1h-1zM15 52h1v1h-1zM40 52h1v1h-1zM40 53h2v1h-2zM14 54h1v1h-1zM40 54h2v1h-2zM40 55h2v1h-2zM39 56h3v1h-3zM38 57h4v1h-4zM13 58h1v1h-1zM35 58h7v1h-7zM34 59h1v1h-1zM38 59h4v1h-4zM12 60h1v1h-1zM32 60h1v1h-1zM39 60h3v1h-3zM12 61h1v1h-1zM28 63h1v1h-1zM14 64h1v1h-1zM26 64h1v1h-1zM15 65h1v1h-1zM25 65h1v1h-1zM16 66h1v1h-1zM24 66h1v1h-1zM17 67h1v1h-1z"/><path fill="#25838e" d="M32 7h1v1h-1zM26 9h1v1h-1zM17 11h1v1h-1zM47 13h1v1h-1zM14 15h1v1h-1zM13 17h1v1h-1zM11 20h1v1h-1zM8 23h1v1h-1zM7 24h1v1h-1zM7 25h1v1h-1zM7 26h1v1h-1zM8 29h1v1h-1zM9 30h1v1h-1zM11 33h1v1h-1zM52 33h1v1h-1zM12 35h1v1h-1zM51 35h1v1h-1zM13 36h1v1h-1zM15 37h1v1h-1zM50 37h1v1h-1zM49 39h1v1h-1zM38 47h1v1h-1zM37 51h1v1h-1zM39 52h1v1h-1zM15 53h1v1h-1zM39 53h1v1h-1zM39 54h1v1h-1zM14 55h1v1h-1zM38 55h2v1h-2zM38 56h1v1h-1zM35 57h3v1h-3zM34 58h1v1h-1zM13 59h1v1h-1zM33 59h1v1h-1zM31 60h1v1h-1zM30 61h1v1h-1zM13 62h1v1h-1zM29 62h1v1h-1zM26 63h2v1h-2zM18 67h1v1h-1zM22 67h1v1h-1z"/><path fill="#23888e" d="M33 7h2v1h-2zM37 7h1v1h-1zM27 9h1v1h-1zM45 11h1v1h-1zM47 14h1v1h-1zM11 21h1v1h-1zM10 23h1v1h-1zM9 24h1v1h-1zM9 25h1v1h-1zM9 26h1v1h-1zM9 29h1v1h-1zM10 30h1v1h-1zM11 32h1v1h-1zM51 34h1v1h-1zM13 35h1v1h-1zM16 37h1v1h-1zM17 40h1v1h-1zM16 41h1v1h-1zM17 42h1v1h-1zM17 43h1v1h-1zM17 44h1v1h-1zM36 49h1v1h-1zM36 51h1v1h-1zM16 53h1v1h-1zM38 53h1v1h-1zM36 54h2v1h-2zM15 55h1v1h-1zM35 55h1v1h-1zM15 56h1v1h-1zM34 56h1v1h-1zM15 57h1v1h-1zM33 57h1v1h-1zM32 58h1v1h-1zM14 59h1v1h-1zM31 59h1v1h-1zM13 60h1v1h-1zM26 61h2v1h-2zM29 61h1v1h-1zM15 64h1v1h-1zM16 65h1v1h-1zM24 65h1v1h-1z"/><path fill="#238a8d" d="M35 7h2v1h-2zM31 8h1v1h-1zM39 8h1v1h-1zM28 9h1v1h-1zM24 10h1v1h-1zM44 10h1v1h-1zM18 11h3v1h-3zM47 15h1v1h-1zM48 17h1v1h-1zM49 19h1v1h-1zM12 20h1v1h-1zM50 21h1v1h-1zM10 24h1v1h-1zM51 24h1v1h-1zM51 25h1v1h-1zM9 27h1v1h-1zM9 28h1v1h-1zM10 29h1v1h-1zM11 31h1v1h-1zM12 33h1v1h-1zM13 34h1v1h-1zM50 35h1v1h-1zM14 36h1v1h-1zM49 38h1v1h-1zM18 39h1v1h-1zM44 39h1v1h-1zM48 39h1v1h-1zM43 40h1v1h-1zM17 41h1v1h-1zM40 43h1v1h-1zM17 45h1v1h-1zM38 45h1v1h-1zM17 46h1v1h-1zM17 47h1v1h-1zM37 47h1v1h-1zM17 48h1v1h-1zM37 52h1v1h-1zM36 53h2v1h-2zM16 54h1v1h-1zM35 54h1v1h-1zM16 55h1v1h-1zM34 55h1v1h-1zM16 56h1v1h-1zM33 56h1v1h-1zM16 57h1v1h-1zM32 57h1v1h-1zM15 58h1v1h-1zM31 58h1v1h-1zM30 59h1v1h-1zM14 60h1v1h-1zM26 60h2v1h-2zM29 60h1v1h-1zM28 61h1v1h-1zM14 62h1v1h-1zM25 62h1v1h-1zM25 63h1v1h-1zM18 66h1v1h-1zM22 66h1v1h-1z"/><path fill="#25858e" d="M38 7h1v1h-1zM30 8h1v1h-1zM40 8h1v1h-1zM43 9h1v1h-1zM23 10h1v1h-1zM16 12h1v1h-1zM46 12h1v1h-1zM15 13h1v1h-1zM14 16h1v1h-1zM48 16h1v1h-1zM49 18h1v1h-1zM12 19h1v1h-1zM50 20h1v1h-1zM10 22h1v1h-1zM9 23h1v1h-1zM51 23h1v1h-1zM8 24h1v1h-1zM8 25h1v1h-1zM8 26h1v1h-1zM8 27h1v1h-1zM8 28h1v1h-1zM52 28h1v1h-1zM10 31h1v1h-1zM52 32h1v1h-1zM12 34h1v1h-1zM50 36h1v1h-1zM16 40h1v1h-1zM44 40h4v1h-4zM43 41h1v1h-1zM16 42h1v1h-1zM42 42h1v1h-1zM16 43h1v1h-1zM41 43h1v1h-1zM16 44h1v1h-1zM40 44h1v1h-1zM16 45h1v1h-1zM39 45h1v1h-1zM16 46h1v1h-1zM38 46h1v1h-1zM16 47h1v1h-1zM16 48h1v1h-1zM37 48h1v1h-1zM16 49h1v1h-1zM16 50h1v1h-1zM36 50h1v1h-1zM16 51h1v1h-1zM16 52h1v1h-1zM38 52h1v1h-1zM15 54h1v1h-1zM38 54h1v1h-1zM36 55h2v1h-2zM14 56h1v1h-1zM35 56h3v1h-3zM14 57h1v1h-1zM34 57h1v1h-1zM14 58h1v1h-1zM33 58h1v1h-1zM32 59h1v1h-1zM30 60h1v1h-1zM13 61h1v1h-1zM26 62h3v1h-3zM14 63h1v1h-1zM25 64h1v1h-1zM17 66h1v1h-1zM23 66h1v1h-1zM19 67h3v1h-3z"/><path fill="#228d8d" d="M32 8h1v1h-1zM38 8h1v1h-1zM40 9h3v1h-3zM21 11h1v1h-1zM46 13h1v1h-1zM15 14h1v1h-1zM13 18h1v1h-1zM10 25h1v1h-1zM10 26h1v1h-1zM51 26h1v1h-1zM10 27h1v1h-1zM10 28h1v1h-1zM52 29h1v1h-1zM11 30h1v1h-1zM52 31h1v1h-1zM12 32h1v1h-1zM51 33h1v1h-1zM49 37h1v1h-1zM45 39h1v1h-1zM18 40h1v1h-1zM18 41h1v1h-1zM42 41h1v1h-1zM18 42h1v1h-1zM41 42h1v1h-1zM18 43h1v1h-1zM18 44h1v1h-1zM39 44h1v1h-1zM37 46h1v1h-1zM36 48h1v1h-1zM17 49h1v1h-1zM17 50h1v1h-1zM35 50h1v1h-1zM17 51h1v1h-1zM17 52h1v1h-1zM36 52h1v1h-1zM35 53h1v1h-1zM34 54h1v1h-1zM32 55h2v1h-2zM32 56h1v1h-1zM31 57h1v1h-1zM16 58h1v1h-1zM30 58h1v1h-1zM15 59h1v1h-1zM29 59h1v1h-1zM28 60h1v1h-1zM14 61h1v1h-1zM25 61h1v1h-1zM15 63h1v1h-1zM16 64h1v1h-1zM24 64h1v1h-1zM17 65h1v1h-1zM23 65h1v1h-1zM19 66h3v1h-3z"/><path fill="#218f8d" d="M33 8h1v1h-1zM37 8h1v1h-1zM29 9h1v1h-1zM39 9h1v1h-1zM45 12h1v1h-1zM15 15h1v1h-1zM47 16h1v1h-1zM14 17h1v1h-1zM13 19h1v1h-1zM11 22h1v1h-1zM51 27h1v1h-1zM11 29h1v1h-1zM12 31h1v1h-1zM13 33h1v1h-1zM14 35h1v1h-1zM49 36h1v1h-1zM18 38h1v1h-1zM43 39h1v1h-1zM46 39h2v1h-2zM18 45h1v1h-1zM37 45h1v1h-1zM35 49h1v1h-1zM35 51h1v1h-1zM35 52h1v1h-1zM17 53h1v1h-1zM34 53h1v1h-1zM17 54h1v1h-1zM32 54h2v1h-2zM17 55h1v1h-1zM31 55h1v1h-1zM17 56h1v1h-1zM31 56h1v1h-1zM17 57h1v1h-1zM30 57h1v1h-1zM29 58h1v1h-1zM27 59h2v1h-2zM15 60h1v1h-1zM25 60h1v1h-1zM15 62h1v1h-1zM24 63h1v1h-1zM18 65h1v1h-1zM22 65h1v1h-1z"/><path fill="#20928c" d="M34 8h3v1h-3zM25 10h1v1h-1zM40 10h1v1h-1zM22 11h1v1h-1zM17 12h1v1h-1zM16 13h1v1h-1zM46 14h1v1h-1zM15 16h1v1h-1zM48 18h1v1h-1zM49 20h1v1h-1zM12 21h1v1h-1zM50 22h1v1h-1zM11 23h1v1h-1zM11 24h1v1h-1zM11 25h1v1h-1zM11 26h1v1h-1zM11 27h1v1h-1zM11 28h1v1h-1zM12 30h1v1h-1zM52 30h1v1h-1zM13 32h1v1h-1zM51 32h1v1h-1zM14 34h1v1h-1zM50 34h1v1h-1zM17 37h1v1h-1zM44 38h1v1h-1zM48 38h1v1h-1zM42 40h1v1h-1zM41 41h1v1h-1zM40 42h1v1h-1zM39 43h1v1h-1zM38 44h1v1h-1zM18 46h1v1h-1zM18 47h1v1h-1zM36 47h1v1h-1zM18 48h1v1h-1zM18 49h1v1h-1zM34 52h1v1h-1zM32 53h2v1h-2zM31 54h1v1h-1zM30 55h1v1h-1zM30 56h1v1h-1zM29 57h1v1h-1zM17 58h1v1h-1zM28 58h1v1h-1zM16 59h1v1h-1zM26 59h1v1h-1zM15 61h1v1h-1zM24 61h1v1h-1zM24 62h1v1h-1zM16 63h1v1h-1zM17 64h1v1h-1zM23 64h1v1h-1zM19 65h3v1h-3z"/><path fill="#20938c" d="M30 9h1v1h-1zM38 9h1v1h-1zM39 10h1v1h-1zM44 11h1v1h-1zM45 13h1v1h-1zM46 15h1v1h-1zM13 20h1v1h-1zM12 29h1v1h-1zM13 31h1v1h-1zM14 33h1v1h-1zM15 36h1v1h-1zM48 37h1v1h-1zM45 38h1v1h-1zM19 40h1v1h-1zM19 41h1v1h-1zM19 42h1v1h-1zM19 43h1v1h-1zM19 44h1v1h-1zM36 45h1v1h-1zM36 46h1v1h-1zM35 48h1v1h-1zM18 50h1v1h-1zM34 50h1v1h-1zM18 51h1v1h-1zM34 51h1v1h-1zM18 52h1v1h-1zM33 52h1v1h-1zM18 53h1v1h-1zM31 53h1v1h-1zM18 54h1v1h-1zM30 54h1v1h-1zM18 55h1v1h-1zM29 55h1v1h-1zM18 56h1v1h-1zM28 56h2v1h-2zM18 57h1v1h-1zM28 57h1v1h-1zM18 58h1v1h-1zM27 58h1v1h-1zM17 59h1v1h-1zM25 59h1v1h-1zM16 60h1v1h-1zM24 60h1v1h-1zM16 61h1v1h-1zM16 62h1v1h-1zM17 63h1v1h-1zM23 63h1v1h-1zM18 64h1v1h-1zM22 64h1v1h-1z"/><path fill="#1f968b" d="M31 9h1v1h-1zM37 9h1v1h-1zM43 10h1v1h-1zM40 11h1v1h-1zM47 17h1v1h-1zM48 19h1v1h-1zM12 28h1v1h-1zM51 28h1v1h-1zM13 30h1v1h-1zM50 33h1v1h-1zM49 35h1v1h-1zM43 38h1v1h-1zM47 38h1v1h-1zM19 39h1v1h-1zM42 39h1v1h-1zM39 42h1v1h-1zM37 44h1v1h-1zM19 45h1v1h-1zM35 47h1v1h-1zM34 49h1v1h-1zM33 51h1v1h-1zM32 52h1v1h-1zM19 53h1v1h-1zM19 54h1v1h-1zM29 54h1v1h-1zM19 55h1v1h-1zM28 55h1v1h-1zM19 56h1v1h-1zM27 56h1v1h-1zM19 57h1v1h-1zM27 57h1v1h-1zM19 58h2v1h-2zM26 58h1v1h-1zM18 59h2v1h-2zM23 59h2v1h-2zM17 60h1v1h-1zM23 60h1v1h-1zM23 61h1v1h-1zM17 62h1v1h-1zM23 62h1v1h-1zM18 63h1v1h-1zM22 63h1v1h-1zM19 64h3v1h-3z"/><path fill="#1f988b" d="M32 9h1v1h-1zM35 9h2v1h-2zM26 10h1v1h-1zM38 10h1v1h-1zM41 10h1v1h-1zM23 11h1v1h-1zM39 11h1v1h-1zM18 12h3v1h-3zM44 12h1v1h-1zM16 14h1v1h-1zM45 14h1v1h-1zM46 16h1v1h-1zM14 18h1v1h-1zM49 21h1v1h-1zM12 22h1v1h-1zM50 23h1v1h-1zM12 24h1v1h-1zM12 25h1v1h-1zM12 26h1v1h-1zM12 27h1v1h-1zM13 29h1v1h-1zM51 31h1v1h-1zM14 32h1v1h-1zM15 34h1v1h-1zM15 35h1v1h-1zM48 36h1v1h-1zM46 38h1v1h-1zM41 40h1v1h-1zM40 41h1v1h-1zM38 43h1v1h-1zM36 44h1v1h-1zM35 45h1v1h-1zM19 46h1v1h-1zM35 46h1v1h-1zM34 48h1v1h-1zM33 50h1v1h-1zM19 52h1v1h-1zM30 53h1v1h-1zM20 54h1v1h-1zM28 54h1v1h-1zM20 55h2v1h-2zM27 55h1v1h-1zM20 56h3v1h-3zM26 56h1v1h-1zM20 57h3v1h-3zM26 57h1v1h-1zM21 58h5v1h-5zM20 59h3v1h-3zM18 60h5v1h-5zM17 61h6v1h-6zM18 62h5v1h-5zM19 63h3v1h-3z"/><path fill="#1e9b8a" d="M33 9h2v1h-2zM27 10h1v1h-1zM37 10h1v1h-1zM21 12h1v1h-1zM16 15h1v1h-1zM15 17h1v1h-1zM14 19h1v1h-1zM13 21h1v1h-1zM12 23h1v1h-1zM33 29h2v1h-2zM51 29h1v1h-1zM33 30h2v1h-2zM14 31h1v1h-1zM15 33h1v1h-1zM47 37h1v1h-1zM19 47h1v1h-1zM34 47h1v1h-1zM19 48h1v1h-1zM19 49h1v1h-1zM33 49h1v1h-1zM19 50h1v1h-1zM19 51h1v1h-1zM32 51h1v1h-1zM31 52h1v1h-1zM20 53h1v1h-1zM29 53h1v1h-1zM21 54h1v1h-1zM27 54h1v1h-1zM22 55h2v1h-2zM25 55h2v1h-2zM23 56h1v1h-1zM25 56h1v1h-1zM23 57h3v1h-3z"/><path fill="#1e9d89" d="M28 10h1v1h-1zM36 10h1v1h-1zM42 10h1v1h-1zM24 11h1v1h-1zM41 11h1v1h-1zM40 12h1v1h-1zM17 13h1v1h-1zM44 13h1v1h-1zM45 15h1v1h-1zM16 16h1v1h-1zM47 18h1v1h-1zM14 20h1v1h-1zM48 20h1v1h-1zM50 24h1v1h-1zM13 28h1v1h-1zM34 28h1v1h-1zM35 29h1v1h-1zM14 30h1v1h-1zM35 30h1v1h-1zM51 30h1v1h-1zM34 31h1v1h-1zM50 32h1v1h-1zM49 34h1v1h-1zM16 36h1v1h-1zM47 36h1v1h-1zM18 37h1v1h-1zM44 37h3v1h-3zM19 38h1v1h-1zM42 38h1v1h-1zM41 39h1v1h-1zM20 40h1v1h-1zM40 40h1v1h-1zM20 41h1v1h-1zM39 41h1v1h-1zM20 42h1v1h-1zM38 42h1v1h-1zM20 43h1v1h-1zM37 43h1v1h-1zM20 44h1v1h-1zM35 44h1v1h-1zM34 45h1v1h-1zM34 46h1v1h-1zM33 48h1v1h-1zM32 50h1v1h-1zM20 52h1v1h-1zM30 52h1v1h-1zM28 53h1v1h-1zM22 54h5v1h-5zM24 55h1v1h-1zM24 56h1v1h-1z"/><path fill="#1fa088" d="M29 10h1v1h-1zM38 11h1v1h-1zM43 11h1v1h-1zM46 17h1v1h-1zM13 24h1v1h-1zM13 25h1v1h-1zM50 25h1v1h-1zM13 26h1v1h-1zM13 27h1v1h-1zM33 28h1v1h-1zM14 29h1v1h-1zM32 29h1v1h-1zM32 30h1v1h-1zM33 31h1v1h-1zM15 32h1v1h-1zM48 35h1v1h-1zM43 37h1v1h-1zM20 45h1v1h-1zM33 47h1v1h-1zM32 49h1v1h-1zM20 51h1v1h-1zM31 51h1v1h-1zM29 52h1v1h-1zM21 53h1v1h-1zM27 53h1v1h-1z"/><path fill="#1fa287" d="M30 10h1v1h-1zM35 10h1v1h-1zM37 11h1v1h-1zM22 12h1v1h-1zM39 12h1v1h-1zM44 14h1v1h-1zM14 21h1v1h-1zM13 22h1v1h-1zM49 22h1v1h-1zM13 23h1v1h-1zM50 26h1v1h-1zM32 28h1v1h-1zM35 28h1v1h-1zM31 29h1v1h-1zM35 31h1v1h-1zM16 34h1v1h-1zM46 36h1v1h-1zM20 39h1v1h-1zM40 39h1v1h-1zM39 40h1v1h-1zM38 41h1v1h-1zM21 43h1v1h-1zM34 44h1v1h-1zM33 45h1v1h-1zM20 46h1v1h-1zM33 46h1v1h-1zM32 48h1v1h-1zM20 50h1v1h-1zM28 52h1v1h-1zM22 53h1v1h-1zM24 53h3v1h-3z"/><path fill="#20a486" d="M31 10h4v1h-4zM25 11h1v1h-1zM36 11h1v1h-1zM42 11h1v1h-1zM41 12h1v1h-1zM43 12h1v1h-1zM20 13h1v1h-1zM45 16h1v1h-1zM15 18h1v1h-1zM47 19h1v1h-1zM33 27h2v1h-2zM50 27h1v1h-1zM14 28h1v1h-1zM31 28h1v1h-1zM36 29h1v1h-1zM31 30h1v1h-1zM36 30h1v1h-1zM15 31h1v1h-1zM32 31h1v1h-1zM50 31h1v1h-1zM16 33h1v1h-1zM49 33h1v1h-1zM16 35h1v1h-1zM45 36h1v1h-1zM41 38h1v1h-1zM21 41h1v1h-1zM21 42h1v1h-1zM36 43h1v1h-1zM21 44h1v1h-1zM31 50h1v1h-1zM30 51h1v1h-1zM21 52h1v1h-1zM23 53h1v1h-1z"/><path fill="#23a983" d="M26 11h1v1h-1zM35 11h1v1h-1zM23 12h1v1h-1zM38 12h1v1h-1zM42 12h1v1h-1zM21 13h1v1h-1zM40 13h1v1h-1zM43 13h1v1h-1zM17 15h1v1h-1zM44 15h1v1h-1zM17 16h1v1h-1zM46 18h1v1h-1zM15 19h1v1h-1zM15 20h1v1h-1zM14 22h1v1h-1zM14 23h1v1h-1zM49 23h1v1h-1zM14 24h1v1h-1zM14 25h1v1h-1zM14 26h1v1h-1zM31 27h1v1h-1zM30 28h1v1h-1zM50 28h1v1h-1zM15 29h1v1h-1zM30 30h1v1h-1zM50 30h1v1h-1zM16 32h1v1h-1zM32 32h1v1h-1zM35 32h1v1h-1zM48 34h1v1h-1zM46 35h1v1h-1zM44 36h1v1h-1zM19 37h1v1h-1zM20 38h1v1h-1zM40 38h1v1h-1zM39 39h1v1h-1zM38 40h1v1h-1zM22 42h1v1h-1zM35 43h1v1h-1zM22 44h1v1h-1zM32 44h1v1h-1zM32 46h1v1h-1zM20 48h1v1h-1zM31 48h1v1h-1zM30 50h1v1h-1zM28 51h1v1h-1zM22 52h1v1h-1zM26 52h1v1h-1z"/><path fill="#27ad81" d="M27 11h1v1h-1zM34 11h1v1h-1zM37 12h1v1h-1zM41 13h1v1h-1zM49 24h1v1h-1zM32 26h1v1h-1zM35 26h1v1h-1zM30 27h1v1h-1zM37 28h1v1h-1zM16 31h1v1h-1zM37 31h1v1h-1zM36 32h1v1h-1zM17 33h1v1h-1zM17 35h1v1h-1zM45 35h1v1h-1zM18 36h1v1h-1zM39 38h1v1h-1zM37 41h1v1h-1zM23 42h1v1h-1zM34 43h1v1h-1zM31 44h1v1h-1zM31 45h1v1h-1zM21 46h1v1h-1zM31 47h1v1h-1zM30 49h1v1h-1zM29 50h1v1h-1zM22 51h1v1h-1z"/><path fill="#2ab07f" d="M28 11h3v1h-3zM33 11h1v1h-1zM24 12h1v1h-1zM36 12h1v1h-1zM22 13h1v1h-1zM42 13h1v1h-1zM18 14h3v1h-3zM43 14h1v1h-1zM44 16h1v1h-1zM17 17h1v1h-1zM16 18h1v1h-1zM15 22h1v1h-1zM48 22h1v1h-1zM15 23h1v1h-1zM31 26h1v1h-1zM15 27h1v1h-1zM37 27h1v1h-1zM16 30h1v1h-1zM17 32h1v1h-1zM30 32h1v1h-1zM47 34h1v1h-1zM44 35h1v1h-1zM42 36h1v1h-1zM40 37h1v1h-1zM38 39h1v1h-1zM22 40h1v1h-1zM36 42h1v1h-1zM23 44h1v1h-1zM30 44h1v1h-1zM22 45h1v1h-1zM31 46h1v1h-1zM30 48h1v1h-1zM28 50h1v1h-1zM26 51h1v1h-1z"/><path fill="#2db27d" d="M31 11h2v1h-2zM18 15h1v1h-1zM46 19h1v1h-1zM15 24h1v1h-1zM15 25h1v1h-1zM49 25h1v1h-1zM15 26h1v1h-1zM36 26h1v1h-1zM29 28h1v1h-1zM16 29h1v1h-1zM29 29h1v1h-1zM49 31h1v1h-1zM48 33h1v1h-1zM20 37h1v1h-1zM37 40h1v1h-1zM24 43h1v1h-1zM33 43h1v1h-1zM29 44h1v1h-1zM30 45h1v1h-1zM29 49h1v1h-1z"/><path fill="#31b57b" d="M25 12h1v1h-1zM35 12h1v1h-1zM38 13h1v1h-1zM40 14h1v1h-1zM18 16h1v1h-1zM45 18h1v1h-1zM16 19h1v1h-1zM16 20h1v1h-1zM16 21h1v1h-1zM47 21h1v1h-1zM16 22h1v1h-1zM33 25h2v1h-2zM30 26h1v1h-1zM16 28h1v1h-1zM38 29h1v1h-1zM29 30h1v1h-1zM38 30h1v1h-1zM17 31h1v1h-1zM29 31h1v1h-1zM37 32h1v1h-1zM30 33h6v1h-6zM18 34h1v1h-1zM46 34h1v1h-1zM18 35h1v1h-1zM43 35h1v1h-1zM19 36h1v1h-1zM41 36h1v1h-1zM39 37h1v1h-1zM21 38h1v1h-1zM38 38h1v1h-1zM23 41h1v1h-1zM24 42h1v1h-1zM35 42h1v1h-1zM25 43h1v1h-1zM31 43h2v1h-2zM24 44h1v1h-1zM28 44h1v1h-1zM29 45h1v1h-1zM30 46h1v1h-1zM30 47h1v1h-1zM21 49h1v1h-1zM22 50h1v1h-1zM27 50h1v1h-1zM23 51h1v1h-1zM25 51h1v1h-1z"/><path fill="#38b977" d="M26 12h1v1h-1zM34 12h1v1h-1zM23 13h1v1h-1zM41 14h2v1h-2zM18 17h1v1h-1zM17 18h1v1h-1zM46 20h1v1h-1zM17 22h1v1h-1zM16 24h1v1h-1zM16 25h1v1h-1zM31 25h1v1h-1zM16 26h1v1h-1zM38 27h1v1h-1zM49 27h1v1h-1zM49 30h1v1h-1zM18 32h1v1h-1zM48 32h1v1h-1zM44 34h1v1h-1zM19 35h1v1h-1zM42 35h1v1h-1zM40 36h1v1h-1zM38 37h1v1h-1zM36 40h1v1h-1zM34 42h1v1h-1zM26 43h4v1h-4zM25 44h2v1h-2zM28 45h1v1h-1zM22 46h1v1h-1zM21 48h1v1h-1zM29 48h1v1h-1zM28 49h1v1h-1zM26 50h1v1h-1z"/><path fill="#40bd72" d="M27 12h1v1h-1zM33 12h1v1h-1zM19 16h1v1h-1zM43 16h1v1h-1zM17 19h1v1h-1zM45 19h1v1h-1zM17 20h1v1h-1zM33 24h3v1h-3zM48 24h1v1h-1zM29 26h1v1h-1zM17 27h1v1h-1zM18 31h1v1h-1zM19 33h1v1h-1zM37 33h1v1h-1zM43 34h1v1h-1zM20 35h1v1h-1zM41 35h1v1h-1zM35 36h1v1h-1zM39 36h1v1h-1zM21 37h1v1h-1zM37 37h1v1h-1zM36 39h1v1h-1zM35 40h1v1h-1zM34 41h1v1h-1zM33 42h1v1h-1zM24 45h1v1h-1zM27 49h1v1h-1zM25 50h1v1h-1z"/><path fill="#44bf70" d="M28 12h5v1h-5zM24 13h1v1h-1zM36 13h1v1h-1zM22 14h1v1h-1zM38 14h1v1h-1zM40 15h3v1h-3zM18 18h1v1h-1zM44 18h1v1h-1zM46 21h1v1h-1zM18 22h1v1h-1zM17 24h1v1h-1zM30 24h3v1h-3zM17 25h1v1h-1zM37 25h1v1h-1zM17 26h1v1h-1zM38 26h1v1h-1zM28 28h1v1h-1zM28 29h1v1h-1zM18 30h1v1h-1zM28 30h1v1h-1zM28 31h1v1h-1zM48 31h1v1h-1zM28 32h1v1h-1zM46 33h1v1h-1zM20 34h1v1h-1zM30 34h7v1h-7zM35 35h1v1h-1zM40 35h1v1h-1zM34 36h1v1h-1zM36 36h3v1h-3zM34 37h3v1h-3zM22 38h1v1h-1zM36 38h1v1h-1zM35 39h1v1h-1zM34 40h1v1h-1zM26 42h1v1h-1zM31 42h2v1h-2zM25 45h2v1h-2zM28 46h1v1h-1zM28 48h1v1h-1zM22 49h1v1h-1zM24 50h1v1h-1z"/><path fill="#22a785" d="M18 13h2v1h-2zM17 14h1v1h-1zM16 17h1v1h-1zM48 21h1v1h-1zM14 27h1v1h-1zM32 27h1v1h-1zM35 27h1v1h-1zM36 28h1v1h-1zM30 29h1v1h-1zM15 30h1v1h-1zM31 31h1v1h-1zM36 31h1v1h-1zM33 32h2v1h-2zM47 35h1v1h-1zM17 36h1v1h-1zM42 37h1v1h-1zM21 40h1v1h-1zM37 42h1v1h-1zM22 43h1v1h-1zM33 44h1v1h-1zM21 45h1v1h-1zM32 45h1v1h-1zM20 47h1v1h-1zM32 47h1v1h-1zM20 49h1v1h-1zM31 49h1v1h-1zM21 51h1v1h-1zM29 51h1v1h-1zM27 52h1v1h-1z"/><path fill="#54c568" d="M25 13h1v1h-1zM21 15h1v1h-1zM20 16h1v1h-1zM42 16h1v1h-1zM19 18h1v1h-1zM18 20h1v1h-1zM19 22h1v1h-1zM46 22h1v1h-1zM29 23h1v1h-1zM31 23h1v1h-1zM34 23h1v1h-1zM36 23h1v1h-1zM18 24h1v1h-1zM37 24h1v1h-1zM18 25h1v1h-1zM38 25h1v1h-1zM18 26h1v1h-1zM28 26h1v1h-1zM48 26h1v1h-1zM18 27h1v1h-1zM48 30h1v1h-1zM19 31h1v1h-1zM27 31h1v1h-1zM39 33h1v1h-1zM44 33h1v1h-1zM21 34h1v1h-1zM38 34h3v1h-3zM21 35h1v1h-1zM33 36h1v1h-1zM22 37h1v1h-1zM33 37h1v1h-1zM33 38h1v1h-1zM24 40h1v1h-1zM32 40h1v1h-1zM25 41h1v1h-1zM28 42h1v1h-1zM24 46h1v1h-1zM26 46h1v1h-1zM22 48h1v1h-1zM27 48h1v1h-1zM24 49h2v1h-2z"/><path fill="#5ac864" d="M26 13h1v1h-1zM34 13h1v1h-1zM23 14h1v1h-1zM37 14h1v1h-1zM41 16h1v1h-1zM44 19h1v1h-1zM19 23h1v1h-1zM32 23h2v1h-2zM28 25h1v1h-1zM39 27h1v1h-1zM48 27h1v1h-1zM19 30h1v1h-1zM27 30h1v1h-1zM27 32h1v1h-1zM40 33h1v1h-1zM32 35h1v1h-1zM31 41h1v1h-1zM25 46h1v1h-1zM23 47h1v1h-1zM27 47h1v1h-1z"/><path fill="#5ec962" d="M27 13h2v1h-2zM38 15h1v1h-1zM40 16h1v1h-1zM20 17h1v1h-1zM43 18h1v1h-1zM19 21h1v1h-1zM45 21h1v1h-1zM30 22h1v1h-1zM28 24h1v1h-1zM47 24h1v1h-1zM39 26h1v1h-1zM27 28h1v1h-1zM48 28h1v1h-1zM19 29h1v1h-1zM27 29h1v1h-1zM48 29h1v1h-1zM47 31h1v1h-1zM20 32h1v1h-1zM40 32h1v1h-1zM46 32h1v1h-1zM27 33h1v1h-1zM41 33h3v1h-3zM28 34h1v1h-1zM22 36h1v1h-1zM23 38h1v1h-1zM32 39h1v1h-1zM24 47h1v1h-1zM26 47h1v1h-1zM23 48h4v1h-4z"/><path fill="#65cb5e" d="M29 13h1v1h-1zM33 13h1v1h-1zM42 17h1v1h-1zM19 19h1v1h-1zM28 23h1v1h-1zM46 23h1v1h-1zM19 24h1v1h-1zM38 24h1v1h-1zM47 25h1v1h-1zM19 26h1v1h-1zM19 27h1v1h-1zM27 27h1v1h-1zM19 28h1v1h-1zM26 31h1v1h-1zM40 31h1v1h-1zM21 33h1v1h-1zM22 35h1v1h-1zM31 35h1v1h-1zM30 41h1v1h-1zM25 47h1v1h-1z"/><path fill="#69cd5b" d="M30 13h1v1h-1zM24 14h1v1h-1zM36 14h1v1h-1zM22 15h1v1h-1zM39 16h1v1h-1zM20 18h1v1h-1zM19 20h1v1h-1zM44 20h1v1h-1zM20 22h1v1h-1zM29 22h1v1h-1zM31 22h1v1h-1zM35 22h2v1h-2zM45 22h1v1h-1zM37 23h1v1h-1zM19 25h1v1h-1zM39 25h1v1h-1zM27 26h1v1h-1zM26 30h1v1h-1zM40 30h1v1h-1zM20 31h1v1h-1zM26 32h1v1h-1zM41 32h1v1h-1zM22 34h1v1h-1zM32 36h1v1h-1zM23 37h1v1h-1zM32 38h1v1h-1zM24 39h1v1h-1zM31 40h1v1h-1zM26 41h1v1h-1z"/><path fill="#70cf57" d="M31 13h2v1h-2zM37 15h1v1h-1zM21 16h1v1h-1zM43 19h1v1h-1zM20 21h1v1h-1zM34 22h1v1h-1zM20 23h1v1h-1zM27 25h1v1h-1zM47 26h1v1h-1zM40 29h1v1h-1zM20 30h1v1h-1zM47 30h1v1h-1zM21 32h1v1h-1zM45 32h1v1h-1zM26 33h1v1h-1zM27 34h1v1h-1zM23 35h1v1h-1zM30 35h1v1h-1zM23 36h1v1h-1zM32 37h1v1h-1zM29 41h1v1h-1z"/><path fill="#50c46a" d="M35 13h1v1h-1zM43 17h1v1h-1zM18 19h1v1h-1zM45 20h1v1h-1zM35 23h1v1h-1zM47 23h1v1h-1zM29 24h1v1h-1zM18 28h1v1h-1zM39 28h1v1h-1zM39 29h1v1h-1zM39 32h1v1h-1zM20 33h1v1h-1zM45 33h1v1h-1zM29 34h1v1h-1zM41 34h1v1h-1zM33 35h1v1h-1zM37 35h3v1h-3zM21 36h1v1h-1zM23 39h1v1h-1zM33 39h1v1h-1zM32 41h1v1h-1zM27 42h1v1h-1zM29 42h1v1h-1zM27 46h1v1h-1zM23 49h1v1h-1zM26 49h1v1h-1z"/><path fill="#3bbb75" d="M37 13h1v1h-1zM20 15h1v1h-1zM17 21h1v1h-1zM47 22h1v1h-1zM17 23h1v1h-1zM30 25h1v1h-1zM36 25h1v1h-1zM17 28h1v1h-1zM49 28h1v1h-1zM17 29h1v1h-1zM49 29h1v1h-1zM38 32h1v1h-1zM29 33h1v1h-1zM47 33h1v1h-1zM19 34h1v1h-1zM20 36h1v1h-1zM37 38h1v1h-1zM23 40h1v1h-1zM24 41h1v1h-1zM35 41h1v1h-1zM25 42h1v1h-1zM27 45h1v1h-1zM29 46h1v1h-1zM29 47h1v1h-1zM23 50h1v1h-1z"/><path fill="#25ac82" d="M39 13h1v1h-1zM45 17h1v1h-1zM47 20h1v1h-1zM15 21h1v1h-1zM33 26h2v1h-2zM36 27h1v1h-1zM15 28h1v1h-1zM37 29h1v1h-1zM50 29h1v1h-1zM37 30h1v1h-1zM30 31h1v1h-1zM31 32h1v1h-1zM49 32h1v1h-1zM17 34h1v1h-1zM43 36h1v1h-1zM41 37h1v1h-1zM21 39h1v1h-1zM22 41h1v1h-1zM23 43h1v1h-1zM21 50h1v1h-1zM27 51h1v1h-1zM23 52h3v1h-3z"/><path fill="#34b679" d="M21 14h1v1h-1zM39 14h1v1h-1zM19 15h1v1h-1zM43 15h1v1h-1zM44 17h1v1h-1zM16 23h1v1h-1zM48 23h1v1h-1zM32 25h1v1h-1zM35 25h1v1h-1zM37 26h1v1h-1zM49 26h1v1h-1zM16 27h1v1h-1zM29 27h1v1h-1zM38 28h1v1h-1zM17 30h1v1h-1zM38 31h1v1h-1zM29 32h1v1h-1zM18 33h1v1h-1zM36 33h1v1h-1zM45 34h1v1h-1zM22 39h1v1h-1zM37 39h1v1h-1zM36 41h1v1h-1zM30 43h1v1h-1zM27 44h1v1h-1zM23 45h1v1h-1zM21 47h1v1h-1zM24 51h1v1h-1z"/><path fill="#75d054" d="M25 14h1v1h-1zM35 14h1v1h-1zM20 19h1v1h-1zM44 21h1v1h-1zM32 22h1v1h-1zM45 23h1v1h-1zM27 24h1v1h-1zM46 24h1v1h-1zM47 27h1v1h-1zM40 28h1v1h-1zM20 29h1v1h-1zM26 29h1v1h-1zM47 29h1v1h-1zM41 31h1v1h-1zM46 31h1v1h-1zM42 32h1v1h-1zM22 33h1v1h-1zM25 40h1v1h-1zM27 41h1v1h-1z"/><path fill="#7cd250" d="M26 14h3v1h-3zM38 16h1v1h-1zM21 17h1v1h-1zM41 17h1v1h-1zM42 18h1v1h-1zM20 20h1v1h-1zM28 22h1v1h-1zM33 22h1v1h-1zM44 22h1v1h-1zM27 23h1v1h-1zM38 23h1v1h-1zM20 24h1v1h-1zM39 24h1v1h-1zM20 25h1v1h-1zM46 25h1v1h-1zM20 26h1v1h-1zM26 26h1v1h-1zM20 27h1v1h-1zM26 27h1v1h-1zM40 27h1v1h-1zM20 28h1v1h-1zM26 28h1v1h-1zM47 28h1v1h-1zM21 31h1v1h-1zM43 32h2v1h-2zM23 34h1v1h-1zM26 34h1v1h-1zM24 35h1v1h-1zM29 35h1v1h-1zM24 36h1v1h-1zM24 37h1v1h-1zM24 38h1v1h-1zM31 39h1v1h-1zM28 41h1v1h-1z"/><path fill="#81d34d" d="M29 14h1v1h-1zM34 14h1v1h-1zM23 15h1v1h-1zM36 15h1v1h-1zM21 18h1v1h-1zM43 20h1v1h-1zM37 22h1v1h-1zM44 23h1v1h-1zM26 25h1v1h-1zM40 26h1v1h-1zM46 26h1v1h-1zM21 30h1v1h-1zM41 30h1v1h-1zM46 30h1v1h-1zM25 31h1v1h-1zM42 31h1v1h-1zM22 32h1v1h-1zM25 32h1v1h-1zM23 33h1v1h-1zM25 33h1v1h-1zM24 34h2v1h-2zM28 35h1v1h-1zM31 36h1v1h-1zM30 40h1v1h-1z"/><path fill="#8ed645" d="M30 14h1v1h-1zM33 14h1v1h-1zM24 15h2v1h-2zM22 16h1v1h-1zM37 16h1v1h-1zM40 17h1v1h-1zM42 19h1v1h-1zM21 20h1v1h-1zM21 21h1v1h-1zM30 21h2v1h-2zM27 22h1v1h-1zM42 22h1v1h-1zM21 23h1v1h-1zM39 23h2v1h-2zM43 23h1v1h-1zM26 24h1v1h-1zM40 24h1v1h-1zM44 24h1v1h-1zM45 25h1v1h-1zM21 26h1v1h-1zM25 26h1v1h-1zM45 26h1v1h-1zM21 27h1v1h-1zM25 27h1v1h-1zM21 28h1v1h-1zM25 28h1v1h-1zM41 28h1v1h-1zM46 28h1v1h-1zM25 29h1v1h-1zM46 29h1v1h-1zM22 30h1v1h-1zM42 30h1v1h-1zM43 31h1v1h-1zM23 32h2v1h-2zM26 35h1v1h-1zM25 36h1v1h-1zM31 37h1v1h-1zM31 38h1v1h-1zM25 39h1v1h-1zM26 40h1v1h-1z"/><path fill="#9bd93c" d="M31 14h2v1h-2zM28 15h1v1h-1zM36 16h1v1h-1zM22 17h1v1h-1zM39 17h1v1h-1zM22 18h1v1h-1zM41 18h1v1h-1zM42 20h1v1h-1zM32 21h1v1h-1zM34 21h1v1h-1zM38 22h1v1h-1zM40 22h1v1h-1zM26 23h1v1h-1zM41 24h2v1h-2zM24 25h1v1h-1zM41 25h3v1h-3zM22 26h1v1h-1zM24 26h1v1h-1zM42 26h3v1h-3zM22 27h1v1h-1zM24 27h1v1h-1zM42 27h3v1h-3zM22 28h1v1h-1zM24 28h1v1h-1zM42 28h3v1h-3zM23 29h2v1h-2zM43 29h2v1h-2zM23 30h2v1h-2zM43 30h2v1h-2zM26 36h1v1h-1zM30 36h1v1h-1zM30 39h1v1h-1zM27 40h2v1h-2z"/><path fill="#95d840" d="M26 15h2v1h-2zM35 15h1v1h-1zM29 21h1v1h-1zM35 21h2v1h-2zM42 21h1v1h-1zM41 22h1v1h-1zM41 23h2v1h-2zM21 24h1v1h-1zM43 24h1v1h-1zM21 25h1v1h-1zM25 25h1v1h-1zM44 25h1v1h-1zM41 26h1v1h-1zM41 27h1v1h-1zM45 27h1v1h-1zM45 28h1v1h-1zM22 29h1v1h-1zM42 29h1v1h-1zM45 29h1v1h-1zM45 30h1v1h-1zM23 31h2v1h-2zM44 31h1v1h-1zM25 37h1v1h-1zM25 38h1v1h-1zM29 40h1v1h-1z"/><path fill="#aadc32" d="M29 15h1v1h-1zM24 16h3v1h-3zM38 17h1v1h-1zM22 20h1v1h-1zM22 21h1v1h-1zM28 21h1v1h-1zM37 21h1v1h-1zM41 21h1v1h-1zM22 22h1v1h-1zM26 22h1v1h-1zM22 23h1v1h-1zM22 24h1v1h-1zM24 24h1v1h-1zM28 36h2v1h-2zM26 37h1v1h-1zM26 38h1v1h-1zM30 38h1v1h-1zM27 39h3v1h-3z"/><path fill="#b0dd2f" d="M30 15h1v1h-1zM33 15h1v1h-1zM27 16h1v1h-1zM35 16h1v1h-1zM23 17h1v1h-1zM37 17h1v1h-1zM25 23h1v1h-1zM23 24h1v1h-1zM27 37h1v1h-1zM30 37h1v1h-1zM27 38h3v1h-3z"/><path fill="#bddf26" d="M31 15h2v1h-2zM28 16h1v1h-1zM34 16h1v1h-1zM35 17h1v1h-1zM40 18h1v1h-1zM41 20h1v1h-1zM39 21h1v1h-1zM23 23h2v1h-2z"/><path fill="#a2da37" d="M34 15h1v1h-1zM23 16h1v1h-1zM22 19h1v1h-1zM33 21h1v1h-1zM39 22h1v1h-1zM25 24h1v1h-1zM22 25h2v1h-2zM23 26h1v1h-1zM23 27h1v1h-1zM23 28h1v1h-1zM27 36h1v1h-1zM26 39h1v1h-1z"/><path fill="#4ac16d" d="M39 15h1v1h-1zM19 17h1v1h-1zM18 21h1v1h-1zM18 23h1v1h-1zM30 23h1v1h-1zM36 24h1v1h-1zM29 25h1v1h-1zM48 25h1v1h-1zM28 27h1v1h-1zM18 29h1v1h-1zM39 30h1v1h-1zM39 31h1v1h-1zM19 32h1v1h-1zM47 32h1v1h-1zM28 33h1v1h-1zM38 33h1v1h-1zM37 34h1v1h-1zM42 34h1v1h-1zM34 35h1v1h-1zM36 35h1v1h-1zM34 38h2v1h-2zM34 39h1v1h-1zM33 40h1v1h-1zM33 41h1v1h-1zM30 42h1v1h-1zM23 46h1v1h-1zM22 47h1v1h-1zM28 47h1v1h-1z"/><path fill="#cae11f" d="M29 16h1v1h-1zM33 16h1v1h-1zM27 17h1v1h-1zM34 17h1v1h-1zM35 18h1v1h-1zM39 18h1v1h-1zM23 20h1v1h-1zM29 20h1v1h-1zM37 20h1v1h-1zM23 21h1v1h-1z"/><path fill="#d2e21b" d="M30 16h3v1h-3zM28 17h1v1h-1zM24 18h1v1h-1zM34 18h1v1h-1zM36 18h3v1h-3zM34 19h2v1h-2zM28 20h1v1h-1zM38 20h1v1h-1zM40 20h1v1h-1zM24 22h1v1h-1z"/><path fill="#c5e021" d="M24 17h3v1h-3zM23 19h1v1h-1zM30 20h7v1h-7zM26 21h1v1h-1zM23 22h1v1h-1zM25 22h1v1h-1z"/><path fill="#dfe318" d="M29 17h1v1h-1zM25 18h4v1h-4zM33 18h1v1h-1zM28 19h1v1h-1zM38 19h2v1h-2zM24 20h1v1h-1zM26 20h1v1h-1zM24 21h1v1h-1z"/><path fill="#ece51b" d="M30 17h2v1h-2z"/><path fill="#e5e419" d="M32 17h1v1h-1zM29 18h1v1h-1zM25 19h3v1h-3zM29 19h4v1h-4zM25 20h1v1h-1z"/><path fill="#d8e219" d="M33 17h1v1h-1zM24 19h1v1h-1zM33 19h1v1h-1zM36 19h2v1h-2zM40 19h1v1h-1zM27 20h1v1h-1zM39 20h1v1h-1zM25 21h1v1h-1z"/><path fill="#b8de29" d="M36 17h1v1h-1zM23 18h1v1h-1zM41 19h1v1h-1zM27 21h1v1h-1zM38 21h1v1h-1zM40 21h1v1h-1zM28 37h2v1h-2z"/><path fill="#f1e51d" d="M30 18h1v1h-1zM32 18h1v1h-1z"/><path fill="#f8e621" d="M31 18h1v1h-1z"/><path fill="#89d548" d="M21 19h1v1h-1zM43 21h1v1h-1zM21 22h1v1h-1zM43 22h1v1h-1zM45 24h1v1h-1zM40 25h1v1h-1zM46 27h1v1h-1zM21 29h1v1h-1zM41 29h1v1h-1zM25 30h1v1h-1zM22 31h1v1h-1zM45 31h1v1h-1zM24 33h1v1h-1zM25 35h1v1h-1zM27 35h1v1h-1z"/><path fill="#471365" d="M60 63h1v1h-1zM59 64h2v1h-2zM58 65h2v1h-2zM58 66h1v1h-1zM56 67h4v1h-4zM56 68h4v1h-4zM52 69h4v1h-4zM48 70h4v1h-4zM45 71h3v1h-3zM46 72h2v1h-2zM45 73h1v1h-1zM44 74h1v1h-1zM42 75h3v1h-3zM42 76h2v1h-2zM39 77h4v1h-4zM39 78h2v1h-2zM39 79h2v1h-2zM38 80h1v1h-1zM37 82h1v1h-1zM36 83h2v1h-2zM36 84h1v1h-1zM35 85h2v1h-2zM0 86h1v1h-1zM35 86h1v1h-1z"/><path fill="#471063" d="M60 65h1v1h-1zM59 66h2v1h-2zM60 67h1v1h-1zM60 68h1v1h-1zM56 69h5v1h-5zM52 70h6v1h-6zM48 71h4v1h-4zM55 71h2v1h-2zM48 72h1v1h-1zM46 73h3v1h-3zM45 74h1v1h-1zM44 76h1v1h-1zM43 77h1v1h-1zM41 78h3v1h-3zM41 79h1v1h-1zM39 80h2v1h-2zM38 81h2v1h-2zM38 82h1v1h-1zM38 83h1v1h-1zM37 84h3v1h-3zM37 85h2v1h-2zM36 86h2v1h-2z"/><path fill="#460b5e" d="M58 70h3v1h-3zM52 71h3v1h-3zM57 71h1v1h-1zM49 72h9v1h-9zM49 73h1v1h-1zM46 74h4v1h-4zM45 75h1v1h-1zM45 76h1v1h-1zM44 77h2v1h-2zM44 78h1v1h-1zM42 79h4v1h-4zM41 80h5v1h-5zM40 81h5v1h-5zM39 82h5v1h-5zM39 83h4v1h-4zM40 84h1v1h-1zM39 85h2v1h-2zM38 86h1v1h-1z"/><path fill="#46085c" d="M58 71h3v1h-3zM58 72h3v1h-3zM50 73h11v1h-11zM50 74h11v1h-11zM46 75h15v1h-15zM46 76h15v1h-15zM46 77h12v1h-12zM45 78h13v1h-13zM46 79h3v1h-3zM51 79h1v1h-1zM55 79h1v1h-1zM46 80h1v1h-1zM45 81h2v1h-2zM44 82h1v1h-1zM43 83h2v1h-2zM41 84h5v1h-5zM41 85h5v1h-5zM39 86h4v1h-4z"/><path fill="#450457" d="M58 77h3v1h-3zM58 78h3v1h-3zM49 79h2v1h-2zM52 79h3v1h-3zM56 79h5v1h-5zM47 80h14v1h-14zM47 81h14v1h-14zM45 82h16v1h-16zM45 83h16v1h-16zM46 84h15v1h-15zM46 85h15v1h-15zM43 86h5v1h-5z"/><path fill="#440154" d="M48 86h13v1h-13z"/></g></g>
<g shape-rendering="crispEdges"><g transform="translate(355.20,64.78) scale(4.24750,4.24750)"><path fill="#3cfa96" d="M0 0h1v1h-1zM7 0h2v1h-2zM10 0h7v1h-7zM18 0h2v1h-2zM22 0h12v1h-12zM38 0h5v1h-5zM50 0h10v1h-10zM0 1h1v1h-1zM7 1h2v1h-2zM10 1h7v1h-7zM18 1h2v1h-2zM21 1h15v1h-15zM37 1h7v1h-7zM49 1h3v1h-3zM53 1h6v1h-6zM0 2h2v1h-2zM7 2h1v1h-1zM15 2h1v1h-1zM47 2h1v1h-1zM59 2h2v1h-2zM0 3h2v1h-2zM45 3h1v1h-1zM59 3h2v1h-2zM0 4h2v1h-2zM59 4h2v1h-2zM0 5h2v1h-2zM59 5h2v1h-2zM1 6h1v1h-1zM60 6h1v1h-1zM1 7h1v1h-1zM60 7h1v1h-1zM1 8h1v1h-1zM1 9h1v1h-1zM1 10h1v1h-1zM60 10h1v1h-1zM59 11h2v1h-2zM58 12h3v1h-3zM58 13h1v1h-1zM60 13h1v1h-1zM58 14h1v1h-1zM58 15h1v1h-1zM58 16h1v1h-1zM58 17h1v1h-1zM0 18h1v1h-1zM59 18h2v1h-2zM0 19h2v1h-2zM0 20h2v1h-2zM0 21h2v1h-2zM60 21h1v1h-1zM0 22h2v1h-2zM0 24h1v1h-1zM59 24h2v1h-2zM0 25h2v1h-2zM59 25h2v1h-2zM0 26h2v1h-2zM59 26h2v1h-2zM0 27h2v1h-2zM59 27h2v1h-2zM0 28h2v1h-2zM59 28h1v1h-1zM0 29h2v1h-2zM59 29h1v1h-1zM0 30h2v1h-2zM1 31h1v1h-1zM59 31h1v1h-1zM1 32h1v1h-1zM59 32h2v1h-2zM0 33h2v1h-2zM59 33h2v1h-2zM0 34h1v1h-1zM59 34h2v1h-2zM0 35h2v1h-2zM59 35h2v1h-2zM0 36h2v1h-2zM59 36h2v1h-2zM0 37h2v1h-2zM59 37h2v1h-2zM59 38h2v1h-2zM59 39h2v1h-2zM1 40h1v1h-1zM59 40h2v1h-2zM0 41h2v1h-2zM59 41h2v1h-2zM0 42h3v1h-3zM59 42h2v1h-2zM0 43h2v1h-2zM59 43h2v1h-2zM0 44h2v1h-2zM59 44h2v1h-2zM0 45h2v1h-2zM59 45h2v1h-2zM0 46h2v1h-2zM59 46h2v1h-2zM0 47h2v1h-2zM59 47h2v1h-2zM59 48h2v1h-2zM59 49h2v1h-2zM59 50h2v1h-2zM59 51h2v1h-2zM59 52h2v1h-2zM59 53h2v1h-2zM59 54h2v1h-2zM59 55h2v1h-2zM59 56h2v1h-2zM59 57h2v1h-2zM59 58h2v1h-2zM59 59h2v1h-2zM59 60h2v1h-2zM59 61h2v1h-2zM59 62h2v1h-2zM34 63h1v1h-1zM59 63h2v1h-2zM53 72h6v1h-6zM48 73h4v1h-4zM54 73h4v1h-4zM60 73h1v1h-1zM48 74h9v1h-9zM59 74h2v1h-2zM48 75h7v1h-7zM58 75h3v1h-3zM48 76h1v1h-1zM44 77h4v1h-4zM44 78h2v1h-2zM44 79h1v1h-1zM60 81h1v1h-1zM55 82h5v1h-5zM46 83h1v1h-1zM53 83h5v1h-5zM35 84h1v1h-1zM45 84h1v1h-1zM51 84h6v1h-6zM24 85h1v1h-1zM26 85h2v1h-2zM29 85h4v1h-4zM34 85h6v1h-6zM41 85h15v1h-15zM24 86h8v1h-8zM34 86h1v1h-1zM36 86h3v1h-3zM40 86h12v1h-12z"/><path fill="#dcdcdc" d="M1 0h1v1h-1zM60 0h1v1h-1zM1 1h1v1h-1zM59 1h2v1h-2zM59 6h1v1h-1zM59 7h1v1h-1zM60 71h1v1h-1zM59 72h2v1h-2zM52 73h2v1h-2zM58 73h2v1h-2zM57 74h2v1h-2zM49 76h1v1h-1zM60 76h1v1h-1zM53 77h1v1h-1zM59 77h2v1h-2zM49 78h3v1h-3zM59 78h1v1h-1zM49 79h1v1h-1zM60 82h1v1h-1zM58 83h3v1h-3zM57 84h4v1h-4zM56 85h5v1h-5zM52 86h9v1h-9z"/><path fill="#ffff3c" d="M2 0h4v1h-4zM17 0h1v1h-1zM34 0h4v1h-4zM45 0h5v1h-5zM2 1h5v1h-5zM17 1h1v1h-1zM36 1h1v1h-1zM45 1h4v1h-4zM52 1h1v1h-1zM2 2h5v1h-5zM8 2h1v1h-1zM10 2h2v1h-2zM16 2h2v1h-2zM21 2h3v1h-3zM25 2h4v1h-4zM30 2h6v1h-6zM38 2h4v1h-4zM43 2h1v1h-1zM46 2h1v1h-1zM48 2h11v1h-11zM2 3h2v1h-2zM5 3h2v1h-2zM11 3h4v1h-4zM16 3h2v1h-2zM21 3h15v1h-15zM38 3h5v1h-5zM44 3h1v1h-1zM46 3h13v1h-13zM6 4h3v1h-3zM10 4h21v1h-21zM32 4h4v1h-4zM38 4h4v1h-4zM44 4h11v1h-11zM56 4h3v1h-3zM2 5h2v1h-2zM5 5h4v1h-4zM11 5h20v1h-20zM35 5h1v1h-1zM39 5h3v1h-3zM44 5h2v1h-2zM47 5h7v1h-7zM55 5h4v1h-4zM0 6h1v1h-1zM2 6h7v1h-7zM11 6h20v1h-20zM35 6h12v1h-12zM54 6h5v1h-5zM0 7h1v1h-1zM2 7h1v1h-1zM4 7h5v1h-5zM11 7h20v1h-20zM35 7h6v1h-6zM43 7h5v1h-5zM51 7h1v1h-1zM53 7h6v1h-6zM0 8h1v1h-1zM2 8h5v1h-5zM8 8h1v1h-1zM10 8h20v1h-20zM35 8h6v1h-6zM46 8h5v1h-5zM52 8h1v1h-1zM54 8h7v1h-7zM0 9h1v1h-1zM2 9h1v1h-1zM4 9h3v1h-3zM10 9h21v1h-21zM36 9h5v1h-5zM43 9h3v1h-3zM47 9h14v1h-14zM0 10h1v1h-1zM2 10h1v1h-1zM4 10h3v1h-3zM9 10h23v1h-23zM36 10h6v1h-6zM44 10h1v1h-1zM47 10h3v1h-3zM52 10h3v1h-3zM58 10h2v1h-2zM0 11h3v1h-3zM4 11h3v1h-3zM8 11h5v1h-5zM17 11h15v1h-15zM36 11h6v1h-6zM43 11h2v1h-2zM50 11h1v1h-1zM52 11h3v1h-3zM57 11h2v1h-2zM0 12h3v1h-3zM4 12h1v1h-1zM6 12h6v1h-6zM19 12h14v1h-14zM34 12h6v1h-6zM43 12h1v1h-1zM46 12h2v1h-2zM51 12h7v1h-7zM0 13h4v1h-4zM6 13h6v1h-6zM13 13h1v1h-1zM15 13h1v1h-1zM20 13h12v1h-12zM36 13h3v1h-3zM43 13h3v1h-3zM47 13h1v1h-1zM50 13h5v1h-5zM57 13h1v1h-1zM0 14h15v1h-15zM23 14h9v1h-9zM36 14h2v1h-2zM39 14h9v1h-9zM49 14h5v1h-5zM57 14h1v1h-1zM0 15h5v1h-5zM6 15h3v1h-3zM11 15h8v1h-8zM23 15h10v1h-10zM35 15h3v1h-3zM40 15h4v1h-4zM50 15h5v1h-5zM57 15h1v1h-1zM0 16h10v1h-10zM11 16h1v1h-1zM13 16h7v1h-7zM25 16h7v1h-7zM37 16h4v1h-4zM42 16h1v1h-1zM46 16h1v1h-1zM49 16h6v1h-6zM57 16h1v1h-1zM0 17h11v1h-11zM13 17h8v1h-8zM23 17h1v1h-1zM26 17h5v1h-5zM38 17h3v1h-3zM45 17h1v1h-1zM47 17h1v1h-1zM50 17h6v1h-6zM1 18h1v1h-1zM4 18h6v1h-6zM11 18h1v1h-1zM14 18h9v1h-9zM25 18h1v1h-1zM40 18h1v1h-1zM43 18h1v1h-1zM46 18h11v1h-11zM5 19h5v1h-5zM14 19h9v1h-9zM46 19h11v1h-11zM59 19h2v1h-2zM2 20h2v1h-2zM5 20h1v1h-1zM7 20h3v1h-3zM13 20h9v1h-9zM29 20h3v1h-3zM33 20h1v1h-1zM43 20h1v1h-1zM46 20h1v1h-1zM48 20h13v1h-13zM5 21h1v1h-1zM7 21h4v1h-4zM12 21h10v1h-10zM28 21h4v1h-4zM34 21h5v1h-5zM45 21h1v1h-1zM47 21h13v1h-13zM2 22h2v1h-2zM5 22h1v1h-1zM7 22h1v1h-1zM9 22h5v1h-5zM15 22h5v1h-5zM26 22h5v1h-5zM36 22h5v1h-5zM45 22h14v1h-14zM0 23h3v1h-3zM10 23h2v1h-2zM25 23h7v1h-7zM35 23h5v1h-5zM46 23h9v1h-9zM56 23h3v1h-3zM1 24h2v1h-2zM25 24h1v1h-1zM31 24h1v1h-1zM35 24h1v1h-1zM46 24h1v1h-1zM48 24h7v1h-7zM56 24h3v1h-3zM2 25h1v1h-1zM13 25h1v1h-1zM18 25h1v1h-1zM41 25h2v1h-2zM45 25h1v1h-1zM47 25h11v1h-11zM2 26h5v1h-5zM15 26h2v1h-2zM18 26h1v1h-1zM26 26h2v1h-2zM39 26h3v1h-3zM53 26h5v1h-5zM3 27h17v1h-17zM26 27h3v1h-3zM55 27h3v1h-3zM2 28h19v1h-19zM26 28h1v1h-1zM40 28h1v1h-1zM47 28h1v1h-1zM51 28h2v1h-2zM56 28h3v1h-3zM60 28h1v1h-1zM2 29h4v1h-4zM7 29h6v1h-6zM16 29h6v1h-6zM39 29h2v1h-2zM47 29h2v1h-2zM52 29h2v1h-2zM57 29h2v1h-2zM60 29h1v1h-1zM2 30h3v1h-3zM8 30h7v1h-7zM16 30h6v1h-6zM26 30h2v1h-2zM38 30h1v1h-1zM46 30h10v1h-10zM57 30h4v1h-4zM0 31h1v1h-1zM2 31h4v1h-4zM9 31h1v1h-1zM11 31h5v1h-5zM18 31h2v1h-2zM21 31h3v1h-3zM26 31h3v1h-3zM49 31h10v1h-10zM60 31h1v1h-1zM0 32h1v1h-1zM3 32h4v1h-4zM9 32h2v1h-2zM12 32h4v1h-4zM19 32h4v1h-4zM24 32h2v1h-2zM27 32h1v1h-1zM44 32h2v1h-2zM49 32h10v1h-10zM4 33h12v1h-12zM17 33h6v1h-6zM26 33h1v1h-1zM31 33h1v1h-1zM35 33h1v1h-1zM37 33h1v1h-1zM44 33h3v1h-3zM50 33h9v1h-9zM1 34h2v1h-2zM4 34h3v1h-3zM8 34h15v1h-15zM30 34h1v1h-1zM33 34h2v1h-2zM39 34h1v1h-1zM42 34h1v1h-1zM44 34h2v1h-2zM47 34h1v1h-1zM50 34h4v1h-4zM55 34h3v1h-3zM4 35h20v1h-20zM36 35h1v1h-1zM39 35h1v1h-1zM41 35h1v1h-1zM45 35h1v1h-1zM47 35h1v1h-1zM50 35h9v1h-9zM2 36h1v1h-1zM4 36h20v1h-20zM31 36h1v1h-1zM36 36h1v1h-1zM42 36h6v1h-6zM50 36h9v1h-9zM2 37h1v1h-1zM4 37h5v1h-5zM10 37h15v1h-15zM31 37h1v1h-1zM34 37h1v1h-1zM36 37h3v1h-3zM41 37h7v1h-7zM50 37h9v1h-9zM2 38h7v1h-7zM13 38h12v1h-12zM33 38h1v1h-1zM35 38h3v1h-3zM41 38h7v1h-7zM50 38h9v1h-9zM2 39h2v1h-2zM16 39h8v1h-8zM29 39h2v1h-2zM34 39h1v1h-1zM42 39h6v1h-6zM50 39h9v1h-9zM5 40h4v1h-4zM15 40h8v1h-8zM28 40h4v1h-4zM34 40h3v1h-3zM43 40h6v1h-6zM50 40h8v1h-8zM3 41h6v1h-6zM11 41h1v1h-1zM15 41h1v1h-1zM17 41h1v1h-1zM19 41h1v1h-1zM21 41h2v1h-2zM25 41h1v1h-1zM28 41h3v1h-3zM34 41h3v1h-3zM43 41h5v1h-5zM51 41h4v1h-4zM56 41h3v1h-3zM3 42h12v1h-12zM20 42h1v1h-1zM23 42h3v1h-3zM33 42h1v1h-1zM38 42h3v1h-3zM43 42h2v1h-2zM47 42h6v1h-6zM56 42h3v1h-3zM4 43h11v1h-11zM25 43h1v1h-1zM35 43h2v1h-2zM40 43h2v1h-2zM47 43h7v1h-7zM56 43h3v1h-3zM4 44h11v1h-11zM16 44h1v1h-1zM19 44h1v1h-1zM24 44h1v1h-1zM30 44h1v1h-1zM35 44h1v1h-1zM47 44h6v1h-6zM56 44h3v1h-3zM3 45h14v1h-14zM20 45h4v1h-4zM28 45h1v1h-1zM34 45h2v1h-2zM37 45h1v1h-1zM39 45h2v1h-2zM46 45h8v1h-8zM56 45h3v1h-3zM2 46h13v1h-13zM16 46h6v1h-6zM27 46h1v1h-1zM32 46h1v1h-1zM34 46h2v1h-2zM44 46h10v1h-10zM55 46h3v1h-3zM2 47h20v1h-20zM32 47h4v1h-4zM42 47h1v1h-1zM45 47h13v1h-13zM0 48h22v1h-22zM33 48h5v1h-5zM39 48h1v1h-1zM41 48h1v1h-1zM44 48h15v1h-15zM0 49h22v1h-22zM34 49h3v1h-3zM38 49h4v1h-4zM45 49h11v1h-11zM57 49h2v1h-2zM0 50h22v1h-22zM26 50h2v1h-2zM29 50h1v1h-1zM33 50h3v1h-3zM38 50h4v1h-4zM45 50h4v1h-4zM51 50h1v1h-1zM53 50h6v1h-6zM0 51h22v1h-22zM25 51h5v1h-5zM34 51h2v1h-2zM37 51h1v1h-1zM39 51h3v1h-3zM43 51h8v1h-8zM52 51h3v1h-3zM56 51h3v1h-3zM0 52h32v1h-32zM40 52h3v1h-3zM44 52h3v1h-3zM48 52h2v1h-2zM52 52h2v1h-2zM55 52h4v1h-4zM0 53h22v1h-22zM23 53h1v1h-1zM26 53h7v1h-7zM39 53h7v1h-7zM48 53h1v1h-1zM51 53h3v1h-3zM56 53h2v1h-2zM0 54h22v1h-22zM26 54h1v1h-1zM28 54h6v1h-6zM35 54h1v1h-1zM38 54h2v1h-2zM41 54h4v1h-4zM46 54h2v1h-2zM50 54h2v1h-2zM54 54h5v1h-5zM0 55h22v1h-22zM25 55h1v1h-1zM27 55h1v1h-1zM32 55h3v1h-3zM37 55h1v1h-1zM41 55h3v1h-3zM46 55h1v1h-1zM49 55h2v1h-2zM55 55h4v1h-4zM0 56h22v1h-22zM24 56h5v1h-5zM31 56h1v1h-1zM35 56h2v1h-2zM42 56h2v1h-2zM48 56h3v1h-3zM55 56h4v1h-4zM0 57h26v1h-26zM27 57h2v1h-2zM33 57h3v1h-3zM46 57h1v1h-1zM48 57h3v1h-3zM55 57h3v1h-3zM0 58h25v1h-25zM27 58h3v1h-3zM32 58h1v1h-1zM36 58h1v1h-1zM48 58h4v1h-4zM53 58h1v1h-1zM55 58h4v1h-4zM0 59h24v1h-24zM27 59h3v1h-3zM32 59h2v1h-2zM35 59h1v1h-1zM48 59h3v1h-3zM53 59h2v1h-2zM56 59h3v1h-3zM0 60h24v1h-24zM27 60h5v1h-5zM33 60h1v1h-1zM35 60h2v1h-2zM48 60h4v1h-4zM53 60h5v1h-5zM0 61h22v1h-22zM26 61h6v1h-6zM34 61h1v1h-1zM36 61h1v1h-1zM38 61h1v1h-1zM44 61h3v1h-3zM48 61h3v1h-3zM55 61h4v1h-4zM0 62h22v1h-22zM26 62h4v1h-4zM33 62h1v1h-1zM46 62h2v1h-2zM49 62h2v1h-2zM53 62h6v1h-6zM0 63h22v1h-22zM25 63h5v1h-5zM32 63h2v1h-2zM35 63h8v1h-8zM48 63h3v1h-3zM53 63h4v1h-4zM58 63h1v1h-1zM0 64h22v1h-22zM25 64h1v1h-1zM27 64h3v1h-3zM32 64h11v1h-11zM49 64h2v1h-2zM53 64h1v1h-1zM55 64h1v1h-1zM57 64h4v1h-4zM0 65h22v1h-22zM31 65h12v1h-12zM45 65h3v1h-3zM56 65h5v1h-5zM0 66h30v1h-30zM31 66h13v1h-13zM48 66h1v1h-1zM54 66h1v1h-1zM56 66h5v1h-5zM0 67h28v1h-28zM30 67h1v1h-1zM34 67h1v1h-1zM37 67h1v1h-1zM39 67h4v1h-4zM47 67h2v1h-2zM51 67h4v1h-4zM56 67h5v1h-5zM0 68h27v1h-27zM29 68h14v1h-14zM48 68h13v1h-13zM0 69h26v1h-26zM28 69h11v1h-11zM40 69h1v1h-1zM46 69h2v1h-2zM49 69h12v1h-12zM0 70h26v1h-26zM27 70h11v1h-11zM40 70h1v1h-1zM44 70h17v1h-17zM0 71h22v1h-22zM23 71h15v1h-15zM42 71h16v1h-16zM59 71h1v1h-1zM0 72h23v1h-23zM24 72h12v1h-12zM37 72h2v1h-2zM40 72h13v1h-13zM0 73h22v1h-22zM25 73h8v1h-8zM36 73h2v1h-2zM39 73h6v1h-6zM0 74h22v1h-22zM26 74h6v1h-6zM39 74h5v1h-5zM0 75h24v1h-24zM28 75h3v1h-3zM39 75h5v1h-5zM55 75h3v1h-3zM0 76h23v1h-23zM25 76h2v1h-2zM30 76h3v1h-3zM35 76h1v1h-1zM37 76h7v1h-7zM50 76h7v1h-7zM0 77h24v1h-24zM25 77h4v1h-4zM31 77h1v1h-1zM34 77h10v1h-10zM48 77h1v1h-1zM0 78h22v1h-22zM26 78h1v1h-1zM28 78h3v1h-3zM32 78h1v1h-1zM34 78h10v1h-10zM46 78h2v1h-2zM60 78h1v1h-1zM0 79h25v1h-25zM32 79h1v1h-1zM35 79h2v1h-2zM38 79h6v1h-6zM45 79h3v1h-3zM59 79h2v1h-2zM0 80h25v1h-25zM30 80h1v1h-1zM32 80h1v1h-1zM37 80h11v1h-11zM55 80h6v1h-6zM0 81h25v1h-25zM32 81h2v1h-2zM36 81h7v1h-7zM44 81h4v1h-4zM53 81h4v1h-4zM59 81h1v1h-1zM0 82h22v1h-22zM23 82h2v1h-2zM32 82h2v1h-2zM35 82h6v1h-6zM43 82h4v1h-4zM50 82h5v1h-5zM0 83h23v1h-23zM24 83h1v1h-1zM33 83h2v1h-2zM36 83h4v1h-4zM41 83h1v1h-1zM43 83h3v1h-3zM48 83h5v1h-5zM0 84h24v1h-24zM26 84h1v1h-1zM32 84h3v1h-3zM36 84h5v1h-5zM42 84h3v1h-3zM47 84h3v1h-3zM0 85h24v1h-24zM25 85h1v1h-1zM28 85h1v1h-1zM33 85h1v1h-1zM40 85h1v1h-1zM0 86h24v1h-24zM32 86h2v1h-2zM35 86h1v1h-1zM39 86h1v1h-1z"/><path fill="#ff5014" d="M6 0h1v1h-1zM2 4h1v1h-1zM22 61h4v1h-4zM22 62h2v1h-2zM22 63h1v1h-1zM22 64h1v1h-1zM57 76h3v1h-3zM49 77h4v1h-4zM54 77h5v1h-5zM48 78h1v1h-1zM52 78h7v1h-7zM48 79h1v1h-1zM50 79h9v1h-9zM48 80h6v1h-6zM48 81h2v1h-2z"/><path fill="#0000ff" d="M9 0h1v1h-1zM20 0h2v1h-2zM43 0h2v1h-2zM9 1h1v1h-1zM20 1h1v1h-1zM44 1h1v1h-1zM9 2h1v1h-1zM19 2h1v1h-1zM49 6h1v1h-1zM59 13h1v1h-1zM59 14h2v1h-2zM59 15h2v1h-2zM59 16h2v1h-2zM59 17h2v1h-2zM59 22h2v1h-2zM59 23h2v1h-2zM31 25h1v1h-1zM32 26h1v1h-1zM29 27h2v1h-2zM32 27h4v1h-4zM37 27h2v1h-2zM30 28h3v1h-3zM36 28h1v1h-1zM31 29h1v1h-1zM35 29h1v1h-1zM30 30h3v1h-3zM35 30h3v1h-3zM34 31h2v1h-2zM32 32h1v1h-1zM3 35h1v1h-1zM0 38h2v1h-2zM0 39h2v1h-2zM5 39h1v1h-1zM0 40h1v1h-1zM2 40h1v1h-1zM28 43h2v1h-2zM27 44h1v1h-1zM32 44h1v1h-1zM42 45h1v1h-1zM53 55h1v1h-1zM32 56h1v1h-1zM47 56h1v1h-1zM53 56h1v1h-1zM53 57h1v1h-1zM31 59h1v1h-1zM52 59h1v1h-1zM32 60h1v1h-1zM52 60h1v1h-1zM33 61h1v1h-1zM52 61h1v1h-1zM51 62h2v1h-2zM51 63h2v1h-2zM51 64h1v1h-1zM45 73h3v1h-3zM44 74h4v1h-4zM44 75h4v1h-4zM44 76h4v1h-4zM34 81h1v1h-1z"/><path fill="#b4e614" d="M12 2h3v1h-3zM18 2h1v1h-1zM20 2h1v1h-1zM24 2h1v1h-1zM42 2h1v1h-1zM44 2h2v1h-2zM7 3h4v1h-4zM15 3h1v1h-1zM18 3h3v1h-3zM9 4h1v1h-1zM55 4h1v1h-1zM9 5h2v1h-2zM54 5h1v1h-1zM9 6h2v1h-2zM47 6h2v1h-2zM50 6h2v1h-2zM9 7h2v1h-2zM48 7h3v1h-3zM7 8h1v1h-1zM9 8h1v1h-1zM7 9h3v1h-3zM46 9h1v1h-1zM7 10h2v1h-2zM43 10h1v1h-1zM45 10h2v1h-2zM55 10h3v1h-3zM7 11h1v1h-1zM45 11h2v1h-2zM55 11h2v1h-2zM5 12h1v1h-1zM44 12h2v1h-2zM5 13h1v1h-1zM42 13h1v1h-1zM46 13h1v1h-1zM54 14h3v1h-3zM9 15h2v1h-2zM55 15h2v1h-2zM10 16h1v1h-1zM12 16h1v1h-1zM41 16h1v1h-1zM55 16h2v1h-2zM11 17h2v1h-2zM41 17h3v1h-3zM56 17h2v1h-2zM10 18h1v1h-1zM12 18h2v1h-2zM57 18h2v1h-2zM10 19h4v1h-4zM57 19h2v1h-2zM10 20h3v1h-3zM32 20h1v1h-1zM2 21h1v1h-1zM11 21h1v1h-1zM32 21h2v1h-2zM31 22h5v1h-5zM32 23h3v1h-3zM40 23h2v1h-2zM26 24h5v1h-5zM32 24h3v1h-3zM36 24h6v1h-6zM26 25h5v1h-5zM32 25h9v1h-9zM58 25h1v1h-1zM28 26h4v1h-4zM33 26h6v1h-6zM42 26h1v1h-1zM58 26h1v1h-1zM2 27h1v1h-1zM31 27h1v1h-1zM36 27h1v1h-1zM39 27h4v1h-4zM58 27h1v1h-1zM27 28h3v1h-3zM37 28h3v1h-3zM25 29h6v1h-6zM36 29h3v1h-3zM28 30h2v1h-2zM7 31h2v1h-2zM16 31h2v1h-2zM20 31h1v1h-1zM29 31h5v1h-5zM36 31h2v1h-2zM2 32h1v1h-1zM7 32h2v1h-2zM11 32h1v1h-1zM16 32h3v1h-3zM26 32h1v1h-1zM28 32h4v1h-4zM33 32h5v1h-5zM2 33h2v1h-2zM16 33h1v1h-1zM27 33h4v1h-4zM32 33h3v1h-3zM36 33h1v1h-1zM3 34h1v1h-1zM7 34h1v1h-1zM27 34h3v1h-3zM31 34h2v1h-2zM58 34h1v1h-1zM2 35h1v1h-1zM37 35h2v1h-2zM40 35h1v1h-1zM3 36h1v1h-1zM37 36h5v1h-5zM9 37h1v1h-1zM39 37h2v1h-2zM9 38h4v1h-4zM34 38h1v1h-1zM38 38h3v1h-3zM4 39h1v1h-1zM6 39h10v1h-10zM33 39h1v1h-1zM38 39h4v1h-4zM3 40h2v1h-2zM9 40h6v1h-6zM39 40h4v1h-4zM58 40h1v1h-1zM2 41h1v1h-1zM9 41h2v1h-2zM12 41h3v1h-3zM16 41h1v1h-1zM18 41h1v1h-1zM20 41h1v1h-1zM40 41h3v1h-3zM55 41h1v1h-1zM15 42h5v1h-5zM21 42h2v1h-2zM28 42h5v1h-5zM35 42h3v1h-3zM41 42h2v1h-2zM45 42h2v1h-2zM53 42h3v1h-3zM2 43h2v1h-2zM15 43h10v1h-10zM26 43h2v1h-2zM30 43h5v1h-5zM37 43h3v1h-3zM42 43h5v1h-5zM54 43h2v1h-2zM2 44h2v1h-2zM15 44h1v1h-1zM17 44h2v1h-2zM20 44h4v1h-4zM25 44h1v1h-1zM28 44h2v1h-2zM31 44h1v1h-1zM33 44h2v1h-2zM36 44h11v1h-11zM53 44h3v1h-3zM2 45h1v1h-1zM17 45h3v1h-3zM29 45h5v1h-5zM36 45h1v1h-1zM38 45h1v1h-1zM41 45h1v1h-1zM43 45h3v1h-3zM55 45h1v1h-1zM28 46h4v1h-4zM36 46h8v1h-8zM58 46h1v1h-1zM36 47h6v1h-6zM43 47h2v1h-2zM58 47h1v1h-1zM38 48h1v1h-1zM40 48h1v1h-1zM36 50h1v1h-1zM42 51h1v1h-1zM43 52h1v1h-1zM47 52h1v1h-1zM54 52h1v1h-1zM46 53h2v1h-2zM50 53h1v1h-1zM58 53h1v1h-1zM27 54h1v1h-1zM45 54h1v1h-1zM48 54h2v1h-2zM52 54h2v1h-2zM28 55h4v1h-4zM44 55h2v1h-2zM47 55h2v1h-2zM51 55h2v1h-2zM29 56h2v1h-2zM33 56h1v1h-1zM44 56h3v1h-3zM51 56h2v1h-2zM29 57h4v1h-4zM47 57h1v1h-1zM51 57h2v1h-2zM58 57h1v1h-1zM30 58h2v1h-2zM33 58h3v1h-3zM47 58h1v1h-1zM52 58h1v1h-1zM30 59h1v1h-1zM34 59h1v1h-1zM47 59h1v1h-1zM51 59h1v1h-1zM34 60h1v1h-1zM58 60h1v1h-1zM32 61h1v1h-1zM35 61h1v1h-1zM51 61h1v1h-1zM30 62h3v1h-3zM34 62h2v1h-2zM30 63h2v1h-2zM30 64h2v1h-2zM51 65h3v1h-3zM30 66h1v1h-1zM45 66h1v1h-1zM47 66h1v1h-1zM50 66h4v1h-4zM28 67h2v1h-2zM31 67h3v1h-3zM45 67h2v1h-2zM49 67h2v1h-2zM27 68h2v1h-2zM43 68h1v1h-1zM45 68h3v1h-3zM39 69h1v1h-1zM41 69h1v1h-1zM43 69h1v1h-1zM45 69h1v1h-1zM48 69h1v1h-1zM38 70h2v1h-2zM41 70h1v1h-1zM43 70h1v1h-1zM38 71h4v1h-4zM36 72h1v1h-1zM39 72h1v1h-1zM37 74h1v1h-1zM37 75h1v1h-1zM23 76h2v1h-2zM33 76h2v1h-2zM24 77h1v1h-1zM32 77h2v1h-2zM22 78h4v1h-4zM33 78h1v1h-1zM33 79h2v1h-2zM33 80h2v1h-2zM36 80h1v1h-1zM54 80h1v1h-1zM50 81h3v1h-3zM22 82h1v1h-1zM34 82h1v1h-1zM48 82h2v1h-2zM23 83h1v1h-1zM35 83h1v1h-1zM42 83h1v1h-1zM47 83h1v1h-1zM41 84h1v1h-1zM46 84h1v1h-1z"/><path fill="#fad23c" d="M29 2h1v1h-1zM36 2h2v1h-2zM4 3h1v1h-1zM36 3h2v1h-2zM43 3h1v1h-1zM3 4h3v1h-3zM31 4h1v1h-1zM36 4h2v1h-2zM42 4h2v1h-2zM4 5h1v1h-1zM31 5h4v1h-4zM36 5h3v1h-3zM42 5h2v1h-2zM46 5h1v1h-1zM31 6h4v1h-4zM53 6h1v1h-1zM3 7h1v1h-1zM31 7h4v1h-4zM41 7h2v1h-2zM52 7h1v1h-1zM30 8h5v1h-5zM41 8h5v1h-5zM51 8h1v1h-1zM53 8h1v1h-1zM3 9h1v1h-1zM31 9h5v1h-5zM41 9h2v1h-2zM3 10h1v1h-1zM32 10h4v1h-4zM42 10h1v1h-1zM50 10h2v1h-2zM3 11h1v1h-1zM13 11h4v1h-4zM32 11h4v1h-4zM42 11h1v1h-1zM47 11h3v1h-3zM51 11h1v1h-1zM3 12h1v1h-1zM12 12h7v1h-7zM33 12h1v1h-1zM40 12h3v1h-3zM48 12h3v1h-3zM4 13h1v1h-1zM12 13h1v1h-1zM14 13h1v1h-1zM16 13h4v1h-4zM32 13h4v1h-4zM39 13h3v1h-3zM48 13h2v1h-2zM55 13h2v1h-2zM15 14h8v1h-8zM32 14h4v1h-4zM38 14h1v1h-1zM48 14h1v1h-1zM5 15h1v1h-1zM19 15h4v1h-4zM33 15h2v1h-2zM38 15h2v1h-2zM44 15h6v1h-6zM20 16h5v1h-5zM43 16h3v1h-3zM47 16h2v1h-2zM21 17h2v1h-2zM24 17h2v1h-2zM31 17h1v1h-1zM35 17h1v1h-1zM37 17h1v1h-1zM44 17h1v1h-1zM46 17h1v1h-1zM48 17h2v1h-2zM2 18h2v1h-2zM23 18h2v1h-2zM41 18h2v1h-2zM44 18h2v1h-2zM2 19h3v1h-3zM23 19h1v1h-1zM41 19h5v1h-5zM4 20h1v1h-1zM6 20h1v1h-1zM44 20h2v1h-2zM47 20h1v1h-1zM3 21h2v1h-2zM6 21h1v1h-1zM22 21h1v1h-1zM27 21h1v1h-1zM46 21h1v1h-1zM4 22h1v1h-1zM6 22h1v1h-1zM8 22h1v1h-1zM14 22h1v1h-1zM20 22h2v1h-2zM23 22h1v1h-1zM42 22h2v1h-2zM3 23h1v1h-1zM5 23h5v1h-5zM12 23h9v1h-9zM42 23h1v1h-1zM45 23h1v1h-1zM55 23h1v1h-1zM3 24h2v1h-2zM9 24h11v1h-11zM21 24h1v1h-1zM24 24h1v1h-1zM42 24h1v1h-1zM45 24h1v1h-1zM47 24h1v1h-1zM55 24h1v1h-1zM3 25h10v1h-10zM14 25h4v1h-4zM19 25h2v1h-2zM23 25h3v1h-3zM7 26h8v1h-8zM17 26h1v1h-1zM19 26h1v1h-1zM23 26h2v1h-2zM47 26h6v1h-6zM20 27h1v1h-1zM23 27h1v1h-1zM25 27h1v1h-1zM48 27h7v1h-7zM25 28h1v1h-1zM48 28h3v1h-3zM53 28h3v1h-3zM6 29h1v1h-1zM13 29h3v1h-3zM41 29h2v1h-2zM46 29h1v1h-1zM50 29h2v1h-2zM54 29h3v1h-3zM5 30h3v1h-3zM15 30h1v1h-1zM25 30h1v1h-1zM39 30h1v1h-1zM56 30h1v1h-1zM6 31h1v1h-1zM10 31h1v1h-1zM25 31h1v1h-1zM40 31h2v1h-2zM44 31h1v1h-1zM46 31h3v1h-3zM39 32h4v1h-4zM46 32h3v1h-3zM39 33h2v1h-2zM43 33h1v1h-1zM47 33h3v1h-3zM23 34h1v1h-1zM38 34h1v1h-1zM41 34h1v1h-1zM43 34h1v1h-1zM46 34h1v1h-1zM48 34h2v1h-2zM54 34h1v1h-1zM29 35h3v1h-3zM35 35h1v1h-1zM42 35h3v1h-3zM46 35h1v1h-1zM48 35h2v1h-2zM30 36h1v1h-1zM32 36h1v1h-1zM34 36h1v1h-1zM48 36h2v1h-2zM3 37h1v1h-1zM32 37h2v1h-2zM48 37h2v1h-2zM30 38h3v1h-3zM48 38h2v1h-2zM24 39h2v1h-2zM31 39h2v1h-2zM35 39h3v1h-3zM48 39h2v1h-2zM23 40h5v1h-5zM32 40h2v1h-2zM37 40h2v1h-2zM49 40h1v1h-1zM23 41h2v1h-2zM26 41h2v1h-2zM32 41h2v1h-2zM37 41h3v1h-3zM48 41h3v1h-3zM26 42h2v1h-2zM34 42h1v1h-1zM26 44h1v1h-1zM54 45h1v1h-1zM15 46h1v1h-1zM22 46h1v1h-1zM33 46h1v1h-1zM54 46h1v1h-1zM29 47h3v1h-3zM31 48h2v1h-2zM42 48h2v1h-2zM22 49h1v1h-1zM27 49h3v1h-3zM31 49h1v1h-1zM33 49h1v1h-1zM37 49h1v1h-1zM42 49h3v1h-3zM56 49h1v1h-1zM22 50h2v1h-2zM25 50h1v1h-1zM28 50h1v1h-1zM30 50h3v1h-3zM37 50h1v1h-1zM42 50h3v1h-3zM49 50h2v1h-2zM52 50h1v1h-1zM22 51h3v1h-3zM30 51h4v1h-4zM36 51h1v1h-1zM38 51h1v1h-1zM51 51h1v1h-1zM55 51h1v1h-1zM32 52h4v1h-4zM38 52h2v1h-2zM50 52h2v1h-2zM24 53h2v1h-2zM33 53h6v1h-6zM49 53h1v1h-1zM54 53h2v1h-2zM22 54h4v1h-4zM34 54h1v1h-1zM36 54h2v1h-2zM40 54h1v1h-1zM22 55h3v1h-3zM26 55h1v1h-1zM35 55h2v1h-2zM38 55h3v1h-3zM22 56h2v1h-2zM34 56h1v1h-1zM37 56h3v1h-3zM26 57h1v1h-1zM36 57h4v1h-4zM42 57h4v1h-4zM25 58h2v1h-2zM42 58h5v1h-5zM54 58h1v1h-1zM24 59h3v1h-3zM42 59h5v1h-5zM55 59h1v1h-1zM24 60h3v1h-3zM41 60h2v1h-2zM44 60h4v1h-4zM37 61h1v1h-1zM39 61h1v1h-1zM41 61h3v1h-3zM47 61h1v1h-1zM53 61h2v1h-2zM36 62h10v1h-10zM48 62h1v1h-1zM43 63h5v1h-5zM57 63h1v1h-1zM26 64h1v1h-1zM43 64h6v1h-6zM54 64h1v1h-1zM56 64h1v1h-1zM24 65h7v1h-7zM43 65h2v1h-2zM48 65h3v1h-3zM54 65h1v1h-1zM44 66h1v1h-1zM46 66h1v1h-1zM49 66h1v1h-1zM55 66h1v1h-1zM35 67h2v1h-2zM38 67h1v1h-1zM43 67h2v1h-2zM55 67h1v1h-1zM44 68h1v1h-1zM26 69h2v1h-2zM42 69h1v1h-1zM44 69h1v1h-1zM26 70h1v1h-1zM42 70h1v1h-1zM22 71h1v1h-1zM58 71h1v1h-1zM23 72h1v1h-1zM22 73h3v1h-3zM33 73h3v1h-3zM38 73h1v1h-1zM22 74h4v1h-4zM32 74h5v1h-5zM38 74h1v1h-1zM24 75h4v1h-4zM31 75h5v1h-5zM38 75h1v1h-1zM27 76h3v1h-3zM36 76h1v1h-1zM29 77h2v1h-2zM27 78h1v1h-1zM25 79h7v1h-7zM37 79h1v1h-1zM25 80h2v1h-2zM28 80h2v1h-2zM31 80h1v1h-1zM35 80h1v1h-1zM25 81h1v1h-1zM27 81h1v1h-1zM29 81h1v1h-1zM31 81h1v1h-1zM43 81h1v1h-1zM57 81h2v1h-2zM25 82h1v1h-1zM27 82h1v1h-1zM30 82h2v1h-2zM41 82h2v1h-2zM47 82h1v1h-1zM25 83h4v1h-4zM31 83h2v1h-2zM40 83h1v1h-1zM24 84h2v1h-2zM28 84h1v1h-1zM30 84h2v1h-2zM50 84h1v1h-1z"/><path fill="#c80000" d="M52 6h1v1h-1zM32 16h5v1h-5zM32 17h2v1h-2zM36 17h1v1h-1zM26 18h3v1h-3zM31 18h3v1h-3zM35 18h5v1h-5zM24 19h17v1h-17zM22 20h5v1h-5zM28 20h1v1h-1zM34 20h9v1h-9zM23 21h4v1h-4zM39 21h6v1h-6zM22 22h1v1h-1zM24 22h2v1h-2zM41 22h1v1h-1zM44 22h1v1h-1zM4 23h1v1h-1zM21 23h4v1h-4zM43 23h2v1h-2zM5 24h4v1h-4zM20 24h1v1h-1zM22 24h2v1h-2zM43 24h2v1h-2zM21 25h2v1h-2zM43 25h2v1h-2zM46 25h1v1h-1zM20 26h3v1h-3zM25 26h1v1h-1zM43 26h1v1h-1zM45 26h2v1h-2zM21 27h2v1h-2zM24 27h1v1h-1zM43 27h1v1h-1zM45 27h3v1h-3zM21 28h4v1h-4zM41 28h6v1h-6zM22 29h3v1h-3zM43 29h3v1h-3zM49 29h1v1h-1zM22 30h3v1h-3zM40 30h6v1h-6zM24 31h1v1h-1zM38 31h2v1h-2zM42 31h2v1h-2zM45 31h1v1h-1zM23 32h1v1h-1zM38 32h1v1h-1zM43 32h1v1h-1zM23 33h3v1h-3zM38 33h1v1h-1zM41 33h2v1h-2zM24 34h3v1h-3zM35 34h1v1h-1zM37 34h1v1h-1zM40 34h1v1h-1zM24 35h2v1h-2zM27 35h2v1h-2zM32 35h3v1h-3zM24 36h1v1h-1zM29 36h1v1h-1zM33 36h1v1h-1zM35 36h1v1h-1zM29 37h2v1h-2zM35 37h1v1h-1zM25 38h1v1h-1zM29 38h1v1h-1zM26 39h3v1h-3zM31 41h1v1h-1zM24 45h4v1h-4zM23 46h1v1h-1zM22 47h1v1h-1zM28 47h1v1h-1zM22 48h1v1h-1zM28 48h3v1h-3zM30 49h1v1h-1zM32 49h1v1h-1zM24 50h1v1h-1zM36 52h2v1h-2zM22 53h1v1h-1zM54 55h1v1h-1zM40 56h2v1h-2zM54 56h1v1h-1zM40 57h2v1h-2zM54 57h1v1h-1zM37 58h5v1h-5zM36 59h6v1h-6zM37 60h4v1h-4zM43 60h1v1h-1zM40 61h1v1h-1zM24 62h2v1h-2zM23 63h2v1h-2zM23 64h2v1h-2zM52 64h1v1h-1zM22 65h2v1h-2zM55 65h1v1h-1zM36 75h1v1h-1zM31 78h1v1h-1zM27 80h1v1h-1zM26 81h1v1h-1zM28 81h1v1h-1zM30 81h1v1h-1zM35 81h1v1h-1zM26 82h1v1h-1zM28 82h2v1h-2zM29 83h2v1h-2zM27 84h1v1h-1zM29 84h1v1h-1z"/><path fill="#380000" d="M34 17h1v1h-1zM29 18h2v1h-2zM34 18h1v1h-1zM27 20h1v1h-1zM44 26h1v1h-1zM44 27h1v1h-1zM36 34h1v1h-1zM26 35h1v1h-1zM25 36h4v1h-4zM25 37h4v1h-4zM26 38h3v1h-3zM24 46h3v1h-3zM23 47h5v1h-5zM23 48h5v1h-5zM23 49h4v1h-4z"/><path fill="#000038" d="M33 28h3v1h-3zM32 29h3v1h-3zM33 30h2v1h-2z"/></g></g>
<g shape-rendering="crispEdges"><rect x="292.5" y="432.65" width="15.0" height="1.95" fill="#440154"/><rect x="292.5" y="430.80" width="15.0" height="1.95" fill="#440256"/><rect x="292.5" y="428.95" width="15.0" height="1.95" fill="#450559"/><rect x="292.5" y="427.10" width="15.0" height="1.95" fill="#46075a"/><rect x="292.5" y="425.25" width="15.0" height="1.95" fill="#46085c"/><rect x="292.5" y="423.40" width="15.0" height="1.95" fill="#460b5e"/><rect x="292.5" y="421.55" width="15.0" height="1.95" fill="#470d60"/><rect x="292.5" y="419.70" width="15.0" height="1.95" fill="#470e61"/><rect x="292.5" y="417.85" width="15.0" height="1.95" fill="#471063"/><rect x="292.5" y="416.00" width="15.0" height="1.95" fill="#471365"/><rect x="292.5" y="414.15" width="15.0" height="1.95" fill="#481467"/><rect x="292.5" y="412.30" width="15.0" height="1.95" fill="#481668"/><rect x="292.5" y="410.45" width="15.0" height="1.95" fill="#48186a"/><rect x="292.5" y="408.60" width="15.0" height="1.95" fill="#481a6c"/><rect x="292.5" y="406.75" width="15.0" height="1.95" fill="#481b6d"/><rect x="292.5" y="404.90" width="15.0" height="1.95" fill="#481c6e"/><rect x="292.5" y="403.05" width="15.0" height="1.95" fill="#481f70"/><rect x="292.5" y="401.20" width="15.0" height="1.95" fill="#482071"/><rect x="292.5" y="399.35" width="15.0" height="1.95" fill="#482173"/><rect x="292.5" y="397.50" width="15.0" height="1.95" fill="#482374"/><rect x="292.5" y="395.65" width="15.0" height="1.95" fill="#482576"/><rect x="292.5" y="393.80" width="15.0" height="1.95" fill="#482677"/><rect x="292.5" y="391.95" width="15.0" height="1.95" fill="#482878"/><rect x="292.5" y="390.10" width="15.0" height="1.95" fill="#472a7a"/><rect x="292.5" y="388.25" width="15.0" height="1.95" fill="#472c7a"/><rect x="292.5" y="386.40" width="15.0" height="1.95" fill="#472d7b"/><rect x="292.5" y="384.55" width="15.0" height="1.95" fill="#472e7c"/><rect x="292.5" y="382.70" width="15.0" height="1.95" fill="#46307e"/><rect x="292.5" y="380.85" width="15.0" height="1.95" fill="#46327e"/><rect x="292.5" y="379.00" width="15.0" height="1.95" fill="#46337f"/><rect x="292.5" y="377.15" width="15.0" height="1.95" fill="#453581"/><rect x="292.5" y="375.30" width="15.0" height="1.95" fill="#453781"/><rect x="292.5" y="373.45" width="15.0" height="1.95" fill="#453882"/><rect x="292.5" y="371.60" width="15.0" height="1.95" fill="#443983"/><rect x="292.5" y="369.75" width="15.0" height="1.95" fill="#443b84"/><rect x="292.5" y="367.90" width="15.0" height="1.95" fill="#433d84"/><rect x="292.5" y="366.05" width="15.0" height="1.95" fill="#433e85"/><rect x="292.5" y="364.20" width="15.0" height="1.95" fill="#424086"/><rect x="292.5" y="362.35" width="15.0" height="1.95" fill="#424186"/><rect x="292.5" y="360.50" width="15.0" height="1.95" fill="#414287"/><rect x="292.5" y="358.65" width="15.0" height="1.95" fill="#414487"/><rect x="292.5" y="356.80" width="15.0" height="1.95" fill="#404688"/><rect x="292.5" y="354.95" width="15.0" height="1.95" fill="#3f4788"/><rect x="292.5" y="353.10" width="15.0" height="1.95" fill="#3f4889"/><rect x="292.5" y="351.25" width="15.0" height="1.95" fill="#3e4989"/><rect x="292.5" y="349.40" width="15.0" height="1.95" fill="#3e4c8a"/><rect x="292.5" y="347.55" width="15.0" height="1.95" fill="#3d4d8a"/><rect x="292.5" y="345.70" width="15.0" height="1.95" fill="#3d4e8a"/><rect x="292.5" y="343.85" width="15.0" height="1.95" fill="#3c508b"/><rect x="292.5" y="342.00" width="15.0" height="1.95" fill="#3b518b"/><rect x="292.5" y="340.15" width="15.0" height="1.95" fill="#3b528b"/><rect x="292.5" y="338.30" width="15.0" height="1.95" fill="#3a538b"/><rect x="292.5" y="336.45" width="15.0" height="1.95" fill="#39558c"/><rect x="292.5" y="334.60" width="15.0" height="1.95" fill="#39568c"/><rect x="292.5" y="332.75" width="15.0" height="1.95" fill="#38588c"/><rect x="292.5" y="330.90" width="15.0" height="1.95" fill="#375a8c"/><rect x="292.5" y="329.05" width="15.0" height="1.95" fill="#375b8d"/><rect x="292.5" y="327.20" width="15.0" height="1.95" fill="#365c8d"/><rect x="292.5" y="325.35" width="15.0" height="1.95" fill="#365d8d"/><rect x="292.5" y="323.50" width="15.0" height="1.95" fill="#355f8d"/><rect x="292.5" y="321.65" width="15.0" height="1.95" fill="#34608d"/><rect x="292.5" y="319.80" width="15.0" height="1.95" fill="#34618d"/><rect x="292.5" y="317.95" width="15.0" height="1.95" fill="#33638d"/><rect x="292.5" y="316.10" width="15.0" height="1.95" fill="#32648e"/><rect x="292.5" y="314.25" width="15.0" height="1.95" fill="#32658e"/><rect x="292.5" y="312.40" width="15.0" height="1.95" fill="#31668e"/><rect x="292.5" y="310.55" width="15.0" height="1.95" fill="#31688e"/><rect x="292.5" y="308.70" width="15.0" height="1.95" fill="#30698e"/><rect x="292.5" y="306.85" width="15.0" height="1.95" fill="#306a8e"/><rect x="292.5" y="305.00" width="15.0" height="1.95" fill="#2f6b8e"/><rect x="292.5" y="303.15" width="15.0" height="1.95" fill="#2e6d8e"/><rect x="292.5" y="301.30" width="15.0" height="1.95" fill="#2e6e8e"/><rect x="292.5" y="299.45" width="15.0" height="1.95" fill="#2e6f8e"/><rect x="292.5" y="297.60" width="15.0" height="1.95" fill="#2d718e"/><rect x="292.5" y="295.75" width="15.0" height="1.95" fill="#2c718e"/><rect x="292.5" y="293.90" width="15.0" height="1.95" fill="#2c728e"/><rect x="292.5" y="292.05" width="15.0" height="1.95" fill="#2c738e"/><rect x="292.5" y="290.20" width="15.0" height="1.95" fill="#2b758e"/><rect x="292.5" y="288.35" width="15.0" height="1.95" fill="#2a768e"/><rect x="292.5" y="286.50" width="15.0" height="1.95" fill="#2a778e"/><rect x="292.5" y="284.65" width="15.0" height="1.95" fill="#29798e"/><rect x="292.5" y="282.80" width="15.0" height="1.95" fill="#297a8e"/><rect x="292.5" y="280.95" width="15.0" height="1.95" fill="#297b8e"/><rect x="292.5" y="279.10" width="15.0" height="1.95" fill="#287c8e"/><rect x="292.5" y="277.25" width="15.0" height="1.95" fill="#277e8e"/><rect x="292.5" y="275.40" width="15.0" height="1.95" fill="#277f8e"/><rect x="292.5" y="273.55" width="15.0" height="1.95" fill="#27808e"/><rect x="292.5" y="271.70" width="15.0" height="1.95" fill="#26828e"/><rect x="292.5" y="269.85" width="15.0" height="1.95" fill="#26828e"/><rect x="292.5" y="268.00" width="15.0" height="1.95" fill="#25838e"/><rect x="292.5" y="266.15" width="15.0" height="1.95" fill="#25848e"/><rect x="292.5" y="264.30" width="15.0" height="1.95" fill="#24868e"/><rect x="292.5" y="262.45" width="15.0" height="1.95" fill="#24878e"/><rect x="292.5" y="260.60" width="15.0" height="1.95" fill="#23888e"/><rect x="292.5" y="258.75" width="15.0" height="1.95" fill="#23898e"/><rect x="292.5" y="256.90" width="15.0" height="1.95" fill="#228b8d"/><rect x="292.5" y="255.05" width="15.0" height="1.95" fill="#228c8d"/><rect x="292.5" y="253.20" width="15.0" height="1.95" fill="#228d8d"/><rect x="292.5" y="251.35" width="15.0" height="1.95" fill="#218f8d"/><rect x="292.5" y="249.50" width="15.0" height="1.95" fill="#21908d"/><rect x="292.5" y="247.65" width="15.0" height="1.95" fill="#21918c"/><rect x="292.5" y="245.80" width="15.0" height="1.95" fill="#20928c"/><rect x="292.5" y="243.95" width="15.0" height="1.95" fill="#20938c"/><rect x="292.5" y="242.10" width="15.0" height="1.95" fill="#1f948c"/><rect x="292.5" y="240.25" width="15.0" height="1.95" fill="#1f958b"/><rect x="292.5" y="238.40" width="15.0" height="1.95" fill="#1f978b"/><rect x="292.5" y="236.55" width="15.0" height="1.95" fill="#1f988b"/><rect x="292.5" y="234.70" width="15.0" height="1.95" fill="#1f998a"/><rect x="292.5" y="232.85" width="15.0" height="1.95" fill="#1f9a8a"/><rect x="292.5" y="231.00" width="15.0" height="1.95" fill="#1e9c89"/><rect x="292.5" y="229.15" width="15.0" height="1.95" fill="#1e9d89"/><rect x="292.5" y="227.30" width="15.0" height="1.95" fill="#1f9e89"/><rect x="292.5" y="225.45" width="15.0" height="1.95" fill="#1fa088"/><rect x="292.5" y="223.60" width="15.0" height="1.95" fill="#1fa188"/><rect x="292.5" y="221.75" width="15.0" height="1.95" fill="#1fa187"/><rect x="292.5" y="219.90" width="15.0" height="1.95" fill="#1fa287"/><rect x="292.5" y="218.05" width="15.0" height="1.95" fill="#20a486"/><rect x="292.5" y="216.20" width="15.0" height="1.95" fill="#21a585"/><rect x="292.5" y="214.35" width="15.0" height="1.95" fill="#21a685"/><rect x="292.5" y="212.50" width="15.0" height="1.95" fill="#22a785"/><rect x="292.5" y="210.65" width="15.0" height="1.95" fill="#23a983"/><rect x="292.5" y="208.80" width="15.0" height="1.95" fill="#24aa83"/><rect x="292.5" y="206.95" width="15.0" height="1.95" fill="#25ab82"/><rect x="292.5" y="205.10" width="15.0" height="1.95" fill="#26ad81"/><rect x="292.5" y="203.25" width="15.0" height="1.95" fill="#27ad81"/><rect x="292.5" y="201.40" width="15.0" height="1.95" fill="#28ae80"/><rect x="292.5" y="199.55" width="15.0" height="1.95" fill="#29af7f"/><rect x="292.5" y="197.70" width="15.0" height="1.95" fill="#2cb17e"/><rect x="292.5" y="195.85" width="15.0" height="1.95" fill="#2db27d"/><rect x="292.5" y="194.00" width="15.0" height="1.95" fill="#2eb37c"/><rect x="292.5" y="192.15" width="15.0" height="1.95" fill="#31b57b"/><rect x="292.5" y="190.30" width="15.0" height="1.95" fill="#32b67a"/><rect x="292.5" y="188.45" width="15.0" height="1.95" fill="#34b679"/><rect x="292.5" y="186.60" width="15.0" height="1.95" fill="#35b779"/><rect x="292.5" y="184.75" width="15.0" height="1.95" fill="#38b977"/><rect x="292.5" y="182.90" width="15.0" height="1.95" fill="#3aba76"/><rect x="292.5" y="181.05" width="15.0" height="1.95" fill="#3bbb75"/><rect x="292.5" y="179.20" width="15.0" height="1.95" fill="#3fbc73"/><rect x="292.5" y="177.35" width="15.0" height="1.95" fill="#40bd72"/><rect x="292.5" y="175.50" width="15.0" height="1.95" fill="#42be71"/><rect x="292.5" y="173.65" width="15.0" height="1.95" fill="#44bf70"/><rect x="292.5" y="171.80" width="15.0" height="1.95" fill="#48c16e"/><rect x="292.5" y="169.95" width="15.0" height="1.95" fill="#4ac16d"/><rect x="292.5" y="168.10" width="15.0" height="1.95" fill="#4cc26c"/><rect x="292.5" y="166.25" width="15.0" height="1.95" fill="#4ec36b"/><rect x="292.5" y="164.40" width="15.0" height="1.95" fill="#52c569"/><rect x="292.5" y="162.55" width="15.0" height="1.95" fill="#54c568"/><rect x="292.5" y="160.70" width="15.0" height="1.95" fill="#56c667"/><rect x="292.5" y="158.85" width="15.0" height="1.95" fill="#5ac864"/><rect x="292.5" y="157.00" width="15.0" height="1.95" fill="#5cc863"/><rect x="292.5" y="155.15" width="15.0" height="1.95" fill="#5ec962"/><rect x="292.5" y="153.30" width="15.0" height="1.95" fill="#60ca60"/><rect x="292.5" y="151.45" width="15.0" height="1.95" fill="#65cb5e"/><rect x="292.5" y="149.60" width="15.0" height="1.95" fill="#67cc5c"/><rect x="292.5" y="147.75" width="15.0" height="1.95" fill="#69cd5b"/><rect x="292.5" y="145.90" width="15.0" height="1.95" fill="#6ece58"/><rect x="292.5" y="144.05" width="15.0" height="1.95" fill="#70cf57"/><rect x="292.5" y="142.20" width="15.0" height="1.95" fill="#73d056"/><rect x="292.5" y="140.35" width="15.0" height="1.95" fill="#75d054"/><rect x="292.5" y="138.50" width="15.0" height="1.95" fill="#7ad151"/><rect x="292.5" y="136.65" width="15.0" height="1.95" fill="#7cd250"/><rect x="292.5" y="134.80" width="15.0" height="1.95" fill="#7fd34e"/><rect x="292.5" y="132.95" width="15.0" height="1.95" fill="#84d44b"/><rect x="292.5" y="131.10" width="15.0" height="1.95" fill="#86d549"/><rect x="292.5" y="129.25" width="15.0" height="1.95" fill="#89d548"/><rect x="292.5" y="127.40" width="15.0" height="1.95" fill="#8bd646"/><rect x="292.5" y="125.55" width="15.0" height="1.95" fill="#90d743"/><rect x="292.5" y="123.70" width="15.0" height="1.95" fill="#93d741"/><rect x="292.5" y="121.85" width="15.0" height="1.95" fill="#95d840"/><rect x="292.5" y="120.00" width="15.0" height="1.95" fill="#98d83e"/><rect x="292.5" y="118.15" width="15.0" height="1.95" fill="#9dd93b"/><rect x="292.5" y="116.30" width="15.0" height="1.95" fill="#a0da39"/><rect x="292.5" y="114.45" width="15.0" height="1.95" fill="#a2da37"/><rect x="292.5" y="112.60" width="15.0" height="1.95" fill="#a8db34"/><rect x="292.5" y="110.75" width="15.0" height="1.95" fill="#aadc32"/><rect x="292.5" y="108.90" width="15.0" height="1.95" fill="#addc30"/><rect x="292.5" y="107.05" width="15.0" height="1.95" fill="#b0dd2f"/><rect x="292.5" y="105.20" width="15.0" height="1.95" fill="#b5de2b"/><rect x="292.5" y="103.35" width="15.0" height="1.95" fill="#b8de29"/><rect x="292.5" y="101.50" width="15.0" height="1.95" fill="#bade28"/><rect x="292.5" y="99.65" width="15.0" height="1.95" fill="#c0df25"/><rect x="292.5" y="97.80" width="15.0" height="1.95" fill="#c2df23"/><rect x="292.5" y="95.95" width="15.0" height="1.95" fill="#c5e021"/><rect x="292.5" y="94.10" width="15.0" height="1.95" fill="#c8e020"/><rect x="292.5" y="92.25" width="15.0" height="1.95" fill="#cde11d"/><rect x="292.5" y="90.40" width="15.0" height="1.95" fill="#d0e11c"/><rect x="292.5" y="88.55" width="15.0" height="1.95" fill="#d2e21b"/><rect x="292.5" y="86.70" width="15.0" height="1.95" fill="#d8e219"/><rect x="292.5" y="84.85" width="15.0" height="1.95" fill="#dae319"/><rect x="292.5" y="83.00" width="15.0" height="1.95" fill="#dde318"/><rect x="292.5" y="81.15" width="15.0" height="1.95" fill="#dfe318"/><rect x="292.5" y="79.30" width="15.0" height="1.95" fill="#e5e419"/><rect x="292.5" y="77.45" width="15.0" height="1.95" fill="#e7e419"/><rect x="292.5" y="75.60" width="15.0" height="1.95" fill="#eae51a"/><rect x="292.5" y="73.75" width="15.0" height="1.95" fill="#ece51b"/><rect x="292.5" y="71.90" width="15.0" height="1.95" fill="#f1e51d"/><rect x="292.5" y="70.05" width="15.0" height="1.95" fill="#f4e61e"/><rect x="292.5" y="68.20" width="15.0" height="1.95" fill="#f6e620"/><rect x="292.5" y="66.35" width="15.0" height="1.95" fill="#fbe723"/><rect x="292.5" y="64.50" width="15.0" height="1.95" fill="#fde725"/></g>
<rect x="19.2" y="64.78" width="259.097" height="369.532" fill="none" stroke="#1a1a1a" stroke-width="0.9"/>
<rect x="355.2" y="64.78" width="259.097" height="369.532" fill="none" stroke="#1a1a1a" stroke-width="0.9"/>
<rect x="292.5" y="64.5" width="15.0" height="370.0" fill="none" stroke="#333" stroke-width="1"/>
<rect x="355.5" y="265.5" width="94" height="169" fill="#fff" stroke="#000" stroke-width="1"/>
<rect x="366.7" y="276.90" width="9.1" height="7.4" fill="#dcdcdc" stroke="#000" stroke-width="1"/><text x="387.4" y="285.10" class="lg">Flat</text><rect x="366.7" y="292.30" width="9.1" height="7.4" fill="#380000" stroke="#000" stroke-width="1"/><text x="387.4" y="300.50" class="lg">Peak</text><rect x="366.7" y="307.70" width="9.1" height="7.4" fill="#c80000" stroke="#000" stroke-width="1"/><text x="387.4" y="315.90" class="lg">Ridge</text><rect x="366.7" y="323.10" width="9.1" height="7.4" fill="#ff5014" stroke="#000" stroke-width="1"/><text x="387.4" y="331.30" class="lg">Shoulder</text><rect x="366.7" y="338.50" width="9.1" height="7.4" fill="#fad23c" stroke="#000" stroke-width="1"/><text x="387.4" y="346.70" class="lg">Spur</text><rect x="366.7" y="353.90" width="9.1" height="7.4" fill="#ffff3c" stroke="#000" stroke-width="1"/><text x="387.4" y="362.10" class="lg">Slope</text><rect x="366.7" y="369.30" width="9.1" height="7.4" fill="#b4e614" stroke="#000" stroke-width="1"/><text x="387.4" y="377.50" class="lg">Hollow</text><rect x="366.7" y="384.70" width="9.1" height="7.4" fill="#3cfa96" stroke="#000" stroke-width="1"/><text x="387.4" y="392.90" class="lg">Footslope</text><rect x="366.7" y="400.10" width="9.1" height="7.4" fill="#0000ff" stroke="#000" stroke-width="1"/><text x="387.4" y="408.30" class="lg">Valley</text><rect x="366.7" y="415.50" width="9.1" height="7.4" fill="#000038" stroke="#000" stroke-width="1"/><text x="387.4" y="423.70" class="lg">Pit</text>
<g stroke="#000" stroke-width="1"><line x1="33.09" y1="434.5" x2="33.09" y2="439.5" /><line x1="75.55" y1="434.5" x2="75.55" y2="439.5" /><line x1="118.00" y1="434.5" x2="118.00" y2="439.5" /><line x1="160.46" y1="434.5" x2="160.46" y2="439.5" /><line x1="202.92" y1="434.5" x2="202.92" y2="439.5" /><line x1="245.38" y1="434.5" x2="245.38" y2="439.5" /><text x="33.09" y="454.75" text-anchor="middle" class="ax">1757000</text><text x="118.00" y="454.75" text-anchor="middle" class="ax">1757200</text><text x="202.92" y="454.75" text-anchor="middle" class="ax">1757400</text><line x1="14.5" y1="434.50" x2="19.5" y2="434.50" /><text transform="translate(10.15,434.50) rotate(-90)" text-anchor="middle" class="ayl">5917000</text><line x1="14.5" y1="349.44" x2="19.5" y2="349.44" /><text transform="translate(10.15,349.44) rotate(-90)" text-anchor="middle" class="ayl">5917200</text><line x1="14.5" y1="264.39" x2="19.5" y2="264.39" /><text transform="translate(10.15,264.39) rotate(-90)" text-anchor="middle" class="ayl">5917400</text><line x1="14.5" y1="179.33" x2="19.5" y2="179.33" /><text transform="translate(10.15,179.33) rotate(-90)" text-anchor="middle" class="ayl">5917600</text><line x1="14.5" y1="94.27" x2="19.5" y2="94.27" /><text transform="translate(10.15,94.27) rotate(-90)" text-anchor="middle" class="ayl">5917800</text><line x1="369.09" y1="434.5" x2="369.09" y2="439.5" /><line x1="411.55" y1="434.5" x2="411.55" y2="439.5" /><line x1="454.00" y1="434.5" x2="454.00" y2="439.5" /><line x1="496.46" y1="434.5" x2="496.46" y2="439.5" /><line x1="538.92" y1="434.5" x2="538.92" y2="439.5" /><line x1="581.38" y1="434.5" x2="581.38" y2="439.5" /><text x="369.09" y="454.75" text-anchor="middle" class="ax">1757000</text><text x="454.00" y="454.75" text-anchor="middle" class="ax">1757200</text><text x="538.92" y="454.75" text-anchor="middle" class="ax">1757400</text><line x1="350.5" y1="434.50" x2="355.5" y2="434.50" /><text transform="translate(346.15,434.50) rotate(-90)" text-anchor="middle" class="ayl">5917000</text><line x1="350.5" y1="349.44" x2="355.5" y2="349.44" /><text transform="translate(346.15,349.44) rotate(-90)" text-anchor="middle" class="ayl">5917200</text><line x1="350.5" y1="264.39" x2="355.5" y2="264.39" /><text transform="translate(346.15,264.39) rotate(-90)" text-anchor="middle" class="ayl">5917400</text><line x1="350.5" y1="179.33" x2="355.5" y2="179.33" /><text transform="translate(346.15,179.33) rotate(-90)" text-anchor="middle" class="ayl">5917600</text><line x1="350.5" y1="94.27" x2="355.5" y2="94.27" /><text transform="translate(346.15,94.27) rotate(-90)" text-anchor="middle" class="ayl">5917800</text><line x1="292.5" y1="412.52" x2="311.0" y2="412.52" /><text x="320.3" y="415.97" class="cbl">100</text><line x1="292.5" y1="339.25" x2="311.0" y2="339.25" /><text x="320.3" y="342.70" class="cbl">120</text><line x1="292.5" y1="265.99" x2="311.0" y2="265.99" /><text x="320.3" y="269.44" class="cbl">140</text><line x1="292.5" y1="192.72" x2="311.0" y2="192.72" /><text x="320.3" y="196.17" class="cbl">160</text><line x1="292.5" y1="119.45" x2="311.0" y2="119.45" /><text x="320.3" y="122.90" class="cbl">180</text></g>
<text x="148.9" y="54.6" text-anchor="middle" class="tt">Elevation (meters)</text>
<text x="484.7" y="54.8" text-anchor="middle" class="tt">form</text>
</svg></body></html>
